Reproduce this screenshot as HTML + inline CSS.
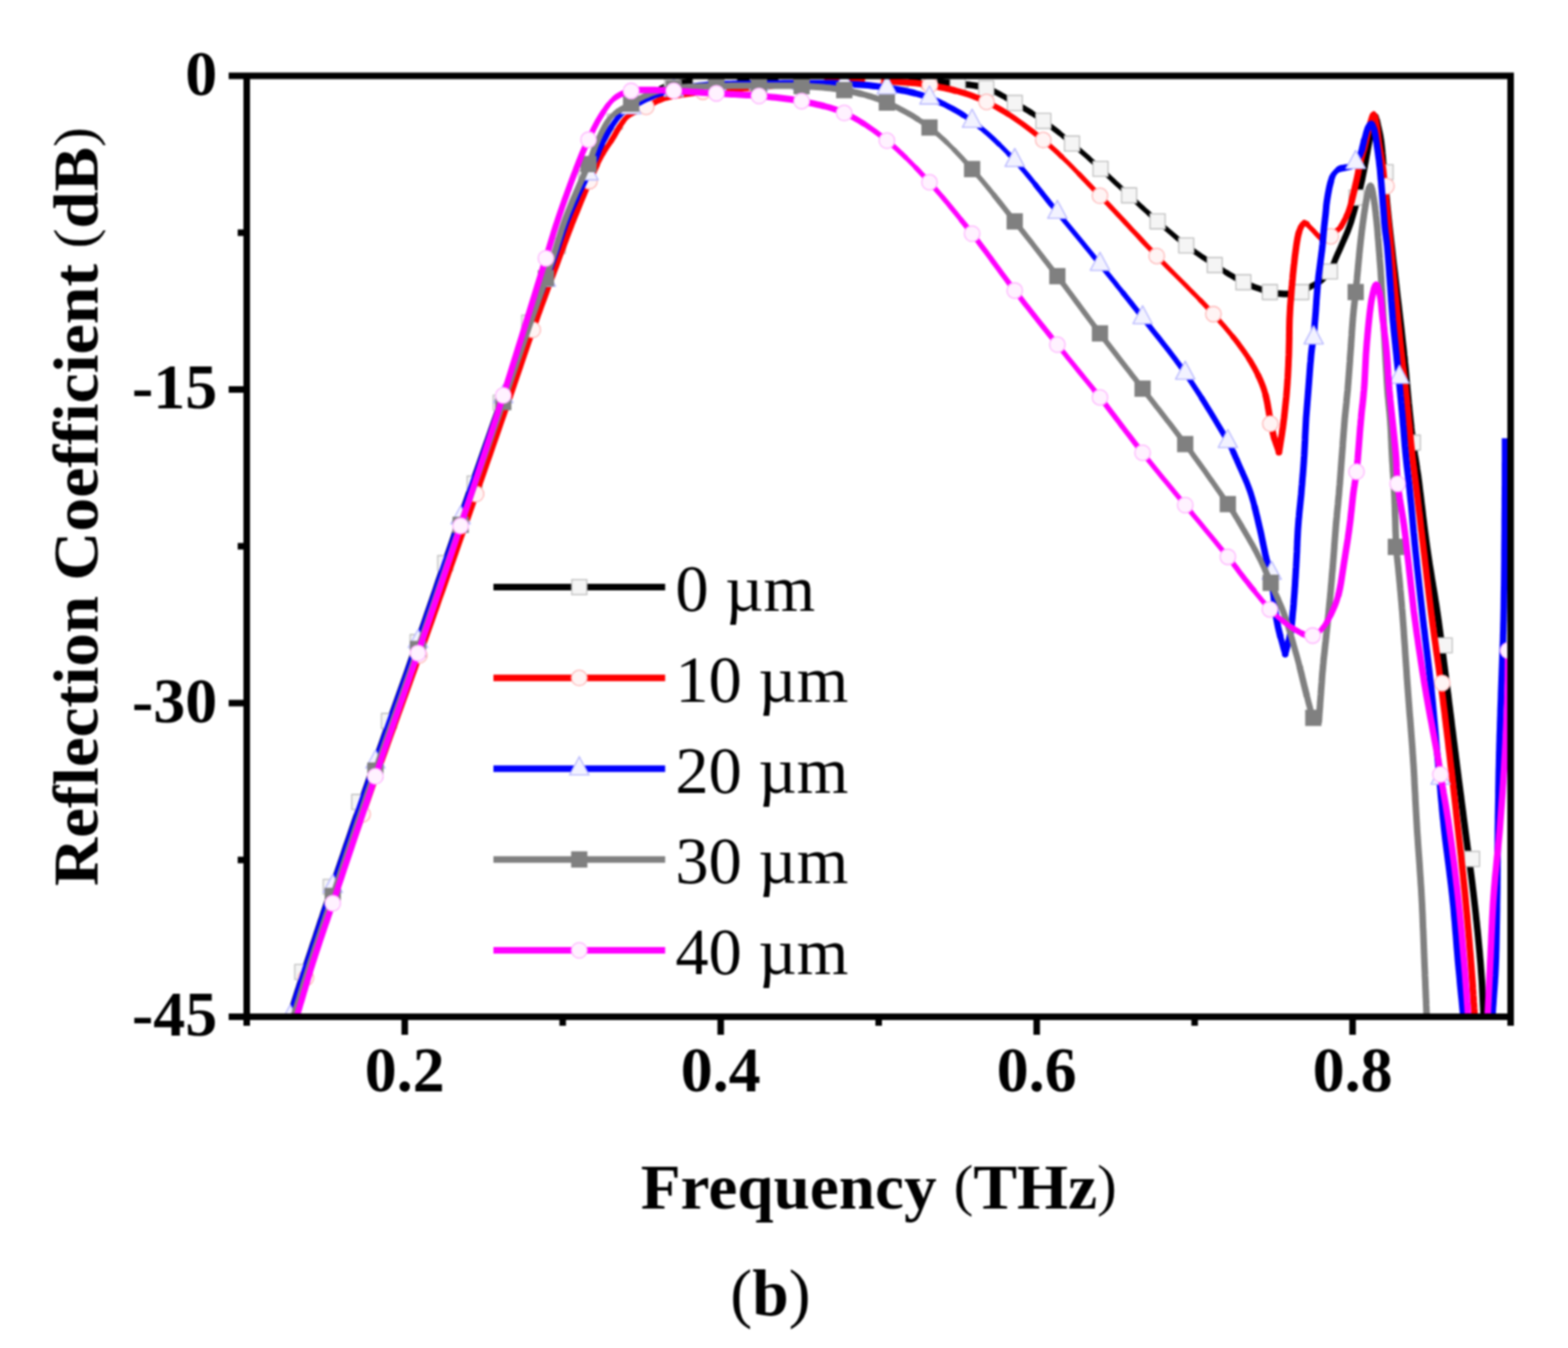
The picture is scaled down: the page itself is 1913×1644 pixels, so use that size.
<!DOCTYPE html>
<html lang="en"><head><meta charset="utf-8"><title>Reflection Coefficient vs Frequency (b)</title>
<style>
html,body{margin:0;padding:0;background:#fff;}
body{width:1913px;height:1644px;overflow:hidden;}
svg{display:block;filter:blur(1.0px);}
text{font-family:"Liberation Serif","DejaVu Serif",serif;fill:#000;}
.b{font-weight:bold;}
.tick{font-weight:bold;font-size:78px;}
.ttl{font-weight:bold;font-size:78px;}
.leg{font-size:81px;}
.p{font-weight:normal;font-size:70px;}
</style></head><body>
<svg width="1913" height="1644" viewBox="0 0 1913 1644">
<rect x="0" y="0" width="1913" height="1644" fill="#ffffff"/>
<defs><clipPath id="plot"><rect x="301.0" y="92.5" width="1542.0" height="1147.5"/></clipPath></defs>
<g clip-path="url(#plot)" fill="none" stroke-linejoin="round" stroke-linecap="round">
<g>
<path d="M348.7,1256.0L349.8,1252.4L350.9,1248.8L351.9,1245.2L353.0,1241.6L354.1,1238.0L355.1,1234.7L356.0,1231.4L357.0,1228.2L358.0,1224.8L359.0,1221.3L360.2,1217.6L361.3,1214.2L362.4,1210.7L363.5,1207.2L364.7,1203.7L365.8,1200.1L367.0,1196.5L368.2,1192.9L369.4,1189.2L370.7,1185.4L371.9,1181.6L373.2,1177.7L374.5,1173.8L376.0,1169.3L377.5,1164.8L379.0,1160.3L380.4,1155.8L381.9,1151.3L383.5,1146.7L385.0,1142.1L386.5,1137.5L388.1,1132.8L389.6,1128.1L391.2,1123.3L392.9,1118.4L394.5,1113.4L396.2,1108.4L398.0,1103.3L399.8,1098.0L402.8,1088.9L406.0,1079.7L409.1,1070.3L412.3,1060.9L415.6,1051.3L418.9,1041.7L422.1,1032.0L425.5,1022.3L428.8,1012.5L432.1,1002.7L435.5,993.0L438.8,983.2L442.2,973.4L445.5,963.7L448.9,954.1L452.2,944.5L455.4,935.2L458.7,925.9L462.0,916.6L465.3,907.3L468.5,898.0L471.8,888.7L475.1,879.5L478.4,870.2L481.7,861.0L485.0,851.7L488.3,842.4L491.6,833.2L494.9,823.9L498.2,814.6L501.4,805.3L504.7,796.0L508.0,786.5L511.3,777.0L514.6,767.5L517.9,758.0L521.1,748.5L524.4,738.9L527.7,729.4L531.0,719.9L534.2,710.3L537.5,700.8L540.8,691.3L544.1,681.7L547.4,672.2L550.7,662.6L554.0,653.1L557.3,643.5L560.7,633.7L564.2,623.9L567.6,614.0L571.1,604.0L574.6,594.1L578.1,584.1L581.6,574.2L585.1,564.2L588.6,554.3L592.0,544.5L595.5,534.7L598.9,525.0L602.3,515.3L605.7,505.8L609.0,496.3L612.3,487.0L614.4,481.1L616.4,475.3L618.5,469.6L620.4,464.0L622.4,458.5L624.3,453.1L626.2,447.7L628.1,442.3L630.0,437.0L631.8,431.7L633.7,426.5L635.6,421.2L637.5,416.0L639.4,410.7L641.4,405.4L643.3,400.0L645.2,394.9L647.1,389.7L649.1,384.6L651.0,379.5L652.9,374.3L654.9,369.2L656.9,364.1L658.8,359.0L660.8,353.9L662.7,348.9L664.7,343.8L666.6,338.8L668.5,333.8L670.3,328.8L672.2,323.9L674.0,319.0L675.4,315.1L676.7,311.3L678.0,307.6L679.3,303.8L680.5,300.1L681.7,296.5L682.9,292.8L684.1,289.2L685.3,285.5L686.6,281.9L687.8,278.3L689.2,274.6L690.5,271.0L692.0,267.3L693.5,263.6L695.3,259.4L697.1,255.3L699.0,251.1L701.0,246.8" stroke="#000000" stroke-width="7.5"/>
<path d="M701.0,246.8L703.0,242.6L705.0,238.3L707.0,234.1L709.1,229.8L711.2,225.6L713.2,221.4L715.3,217.2L717.3,213.1L719.3,209.0L721.3,205.0L723.2,201.0L725.0,197.1" stroke="#000000" stroke-width="7.0"/>
<path d="M725.0,197.1L726.8,193.0L728.4,189.3L729.8,185.7L731.2,182.2L732.7,178.9L734.2,175.5" stroke="#000000" stroke-width="7.5"/>
<path d="M734.2,175.5L736.0,172.0L737.8,168.7L739.7,165.3L741.6,161.9L743.6,158.5L745.7,155.2" stroke="#000000" stroke-width="7.0"/>
<path d="M745.7,155.2L747.8,151.9L750.0,148.7L752.2,145.6L754.5,142.7" stroke="#000000" stroke-width="6.5"/>
<path d="M754.5,142.7L757.1,139.8L759.9,137.1L762.8,134.7" stroke="#000000" stroke-width="6.0"/>
<path d="M762.8,134.7L765.8,132.4L768.9,130.2L772.0,128.0L775.1,125.8L778.3,123.7L781.5,121.6" stroke="#000000" stroke-width="6.5"/>
<path d="M781.5,121.6L784.8,119.6L788.2,117.7L791.6,115.8L795.0,114.0L798.1,112.4L801.2,110.8L804.2,109.2L807.4,107.7" stroke="#000000" stroke-width="7.0"/>
<path d="M807.4,107.7L810.6,106.3L813.9,105.0L817.3,103.9" stroke="#000000" stroke-width="7.5"/>
<path d="M817.3,103.9L821.0,103.0L824.5,102.3L828.0,101.6L831.6,101.0L835.2,100.5L838.9,100.0L842.7,99.6L846.5,99.2L850.2,98.8L854.1,98.4L857.9,98.1L861.7,97.8L865.5,97.5L869.3,97.3L873.0,97.0L876.8,96.7L880.5,96.5L884.3,96.3L888.0,96.2L891.7,96.1L895.5,96.0L899.2,95.9L903.0,95.8L906.8,95.7L910.6,95.7L914.4,95.6L918.2,95.6L922.1,95.5L926.0,95.5L930.2,95.5L934.4,95.4L938.7,95.4L943.0,95.4L947.3,95.4L951.6,95.4L955.9,95.4L960.3,95.4L964.6,95.4L968.9,95.4L973.3,95.4L977.7,95.4L982.0,95.4L986.3,95.5L990.7,95.5L995.0,95.5L999.3,95.5L1003.6,95.5L1007.9,95.5L1012.2,95.5L1016.6,95.5L1020.9,95.5L1025.2,95.6L1029.5,95.6L1033.8,95.6L1038.1,95.6L1042.4,95.6L1046.7,95.7L1051.0,95.7L1055.4,95.8L1059.7,95.9L1064.0,96.0L1068.4,96.1L1072.8,96.2L1077.2,96.4L1081.7,96.5L1086.1,96.7L1090.6,96.9L1095.1,97.1L1099.5,97.2L1104.0,97.4L1108.4,97.7L1112.8,97.9L1117.1,98.1L1121.4,98.3L1125.7,98.5L1129.9,98.8L1134.0,99.0L1138.2,99.3L1142.1,99.5L1146.0,99.8L1149.7,100.1L1153.4,100.4L1157.0,100.8L1160.6,101.1L1164.3,101.6L1168.0,102.0L1171.9,102.4L1175.8,102.8L1179.8,103.2L1183.7,103.6L1187.6,104.1L1191.5,104.7L1195.4,105.4L1199.2,106.4" stroke="#000000" stroke-width="8.0"/>
<path d="M1199.2,106.4L1203.0,107.5L1206.4,108.7L1209.7,110.1L1213.1,111.6" stroke="#000000" stroke-width="7.5"/>
<path d="M1213.1,111.6L1216.4,113.2L1219.6,114.9L1222.9,116.7L1226.2,118.5L1229.4,120.4L1232.6,122.3L1235.8,124.2L1239.0,126.0L1242.2,127.8L1245.3,129.7L1248.5,131.5L1251.6,133.4L1254.7,135.3L1257.8,137.3" stroke="#000000" stroke-width="7.0"/>
<path d="M1257.8,137.3L1260.8,139.3L1263.9,141.3L1267.0,143.3L1270.0,145.4L1273.0,147.5L1276.2,149.8L1279.4,152.1L1282.5,154.5L1285.6,156.9L1288.8,159.4L1291.9,161.8" stroke="#000000" stroke-width="6.5"/>
<path d="M1291.9,161.8L1295.0,164.3L1298.0,166.9L1301.1,169.4L1304.2,171.9L1307.2,174.5L1310.2,177.0L1313.1,179.4L1316.0,181.9L1318.8,184.4L1321.7,187.0L1324.6,189.5L1327.5,192.1L1330.3,194.7L1333.2,197.2L1336.0,199.8L1338.9,202.4L1341.8,205.0L1344.5,207.5L1347.2,210.0L1350.0,212.5L1352.7,215.1L1355.4,217.6L1358.2,220.2L1360.9,222.8L1363.6,225.3L1366.4,227.9L1369.1,230.4L1371.8,233.0L1374.5,235.5L1377.2,238.0L1380.1,240.6L1382.9,243.2L1385.7,245.8L1388.5,248.4L1391.3,250.9L1394.1,253.5L1396.9,256.1L1399.7,258.6L1402.5,261.2L1405.3,263.7L1408.1,266.2L1411.0,268.8L1413.9,271.3L1416.8,273.9L1419.7,276.4L1422.7,279.0L1425.6,281.5L1428.6,284.1L1431.5,286.6L1434.5,289.1L1437.5,291.6L1440.5,294.0" stroke="#000000" stroke-width="6.0"/>
<path d="M1440.5,294.0L1443.5,296.4L1446.5,298.8L1449.6,301.1L1452.7,303.3L1455.8,305.6L1458.9,307.8L1462.0,309.9L1465.1,312.1L1468.3,314.2L1471.5,316.3L1474.6,318.4L1477.8,320.4L1481.0,322.5L1484.1,324.5L1487.3,326.6L1490.4,328.6L1493.6,330.7L1496.7,332.7" stroke="#000000" stroke-width="6.5"/>
<path d="M1496.7,332.7L1499.9,334.7L1503.1,336.6L1506.3,338.5L1509.5,340.3L1512.7,342.1L1516.0,343.8L1519.6,345.5" stroke="#000000" stroke-width="7.0"/>
<path d="M1519.6,345.5L1523.3,347.1L1527.1,348.7L1530.8,350.2L1534.6,351.5L1538.3,352.8L1542.1,354.1L1545.8,355.2L1549.4,356.2" stroke="#000000" stroke-width="7.5"/>
<path d="M1549.4,356.2L1553.0,357.1L1556.4,357.7L1559.9,358.1L1563.3,358.3L1566.6,358.5L1570.0,358.5L1573.6,358.4L1577.2,358.2L1580.8,357.7L1584.3,357.1" stroke="#000000" stroke-width="8.0"/>
<path d="M1584.3,357.1L1587.6,356.2L1590.5,355.0" stroke="#000000" stroke-width="7.5"/>
<path d="M1590.5,355.0L1593.2,353.4" stroke="#000000" stroke-width="7.0"/>
<path d="M1593.2,353.4L1595.8,351.6" stroke="#000000" stroke-width="6.5"/>
<path d="M1595.8,351.6L1598.5,349.9L1601.4,348.3L1604.5,346.7L1607.5,345.1L1610.5,343.4" stroke="#000000" stroke-width="7.0"/>
<path d="M1610.5,343.4L1613.2,341.5" stroke="#000000" stroke-width="6.5"/>
<path d="M1613.2,341.5L1615.9,339.2" stroke="#000000" stroke-width="6.0"/>
<path d="M1615.9,339.2L1618.4,336.8" stroke="#000000" stroke-width="5.5"/>
<path d="M1618.4,336.8L1620.6,334.1" stroke="#000000" stroke-width="6.0"/>
<path d="M1620.6,334.1L1622.6,331.1" stroke="#000000" stroke-width="6.5"/>
<path d="M1622.6,331.1L1624.2,328.2L1625.7,325.1" stroke="#000000" stroke-width="7.0"/>
<path d="M1625.7,325.1L1627.0,321.8L1628.3,318.5L1629.6,315.2L1631.0,312.0L1632.4,308.8L1633.9,305.6L1635.3,302.5L1636.7,299.3L1638.1,296.1L1639.5,293.0L1641.0,289.6L1642.4,286.2L1643.9,282.9L1645.2,279.5L1646.5,276.0L1647.8,272.3L1649.0,268.5L1650.1,264.7L1651.2,260.9L1652.3,257.0L1653.3,253.5L1654.2,250.1L1655.1,246.6L1656.0,243.0" stroke="#000000" stroke-width="7.5"/>
<path d="M1656.0,243.0L1656.9,239.5L1657.8,236.0L1658.6,232.5L1659.4,229.0L1660.2,225.5L1661.0,222.0L1661.8,218.5L1662.5,215.0L1663.2,211.5L1663.9,208.0L1664.6,204.5L1665.2,201.0L1665.9,197.5L1666.5,194.0L1667.1,190.5L1667.8,187.0L1668.4,183.4L1669.0,179.9L1669.7,176.4L1670.3,173.0L1670.9,169.7L1671.5,166.5L1672.2,163.3L1672.8,160.2L1673.5,157.0L1674.2,153.3L1675.0,149.2L1675.8,145.2" stroke="#000000" stroke-width="8.0"/>
<path d="M1675.8,145.2L1676.7,142.3" stroke="#000000" stroke-width="7.5"/>
<path d="M1676.7,142.3L1677.5,141.0L1678.5,142.4" stroke="#000000" stroke-width="6.5"/>
<path d="M1678.5,142.4L1679.5,146.1" stroke="#000000" stroke-width="7.5"/>
<path stroke-linecap="butt" d="M1679.5,146.1L1680.6,150.7L1681.5,155.0L1682.3,158.4L1683.1,161.8L1683.8,165.2L1684.4,168.8L1685.0,172.7L1685.4,176.2L1685.8,179.7L1686.2,183.3L1686.5,186.9L1686.9,190.6L1687.2,194.3L1687.5,198.1L1687.9,202.0L1688.2,206.0L1688.6,210.0L1689.0,214.0L1689.4,217.9L1689.8,221.9L1690.1,225.9L1690.5,229.9L1690.9,233.9L1691.3,237.9L1691.7,242.0L1692.1,246.1L1692.5,250.3L1692.9,254.6L1693.4,259.0L1693.8,263.4L1694.3,267.9L1694.8,272.6L1695.3,277.3L1696.3,286.2L1697.3,295.3L1698.4,304.5L1699.4,313.9L1700.5,323.4L1701.7,332.9L1702.8,342.6L1703.9,352.2L1705.0,361.9L1706.2,371.5L1707.3,381.1L1708.4,390.6L1709.5,400.0L1710.5,409.3L1711.5,418.4L1712.5,427.3L1713.0,432.4L1713.6,437.3L1714.0,442.2L1714.5,446.9L1715.0,451.6L1715.4,456.2L1715.8,460.8L1716.2,465.3L1716.6,469.7L1717.0,474.1L1717.4,478.5L1717.8,482.8L1718.2,487.1L1718.6,491.4L1719.1,495.7L1719.5,500.0L1719.9,503.9L1720.3,507.7L1720.7,511.5L1721.1,515.1L1721.5,518.7L1721.8,522.2L1722.2,525.7L1722.7,529.3L1723.1,532.8L1723.5,536.4L1724.0,540.0L1724.5,543.6L1725.0,547.1L1725.5,550.6L1726.0,554.1L1726.6,557.6L1727.2,561.1L1727.7,564.7L1728.3,568.3L1728.8,572.0L1729.4,575.8L1730.0,579.6L1730.5,583.6L1731.2,588.6L1731.8,593.6L1732.4,598.7L1733.1,603.8L1733.7,609.0L1734.3,614.3L1735.0,619.5L1735.6,624.8L1736.2,630.1L1736.9,635.5L1737.5,640.8L1738.2,646.1L1738.9,651.4L1739.6,656.8L1740.3,662.0L1741.0,667.3L1741.8,672.7L1742.6,678.1L1743.4,683.4L1744.2,688.8L1745.1,694.2L1746.0,699.6L1746.8,705.0L1747.7,710.4L1748.6,715.8L1749.5,721.2L1750.4,726.6L1751.2,732.0L1752.1,737.4L1752.9,742.8L1753.7,748.2L1754.5,753.6L1755.3,759.1L1756.0,764.6L1756.8,770.2L1757.5,775.7L1758.3,781.2L1759.0,786.8L1759.7,792.3L1760.4,797.9L1761.1,803.4L1761.8,808.9L1762.5,814.5L1763.2,820.0L1763.9,825.5L1764.6,831.0L1765.3,836.5L1766.0,842.0L1766.7,847.1L1767.3,852.3L1767.9,857.4L1768.6,862.5L1769.2,867.6L1769.9,872.7L1770.5,877.8L1771.1,882.9L1771.7,888.0L1772.4,893.0L1773.0,898.1L1773.6,903.2L1774.3,908.3L1774.9,913.4L1775.6,918.5L1776.2,923.6L1776.9,928.8L1777.5,934.0L1778.2,939.3L1778.9,944.5L1779.5,949.7L1780.2,954.9L1780.9,960.1L1781.6,965.4L1782.3,970.6L1782.9,975.8L1783.6,981.1L1784.3,986.3L1785.0,991.6L1785.6,996.8L1786.3,1002.0L1787.0,1007.3L1787.7,1012.7L1788.4,1018.1L1789.1,1023.4L1789.8,1028.8L1790.5,1034.2L1791.3,1039.6L1792.0,1045.0L1792.7,1050.4L1793.4,1055.8L1794.1,1061.2L1794.8,1066.6L1795.5,1072.0L1796.2,1077.4L1796.8,1082.8L1797.5,1088.2L1798.1,1093.6L1798.7,1098.9L1799.3,1104.1L1799.9,1109.4L1800.5,1114.7L1801.0,1120.0L1801.6,1125.3L1802.1,1130.6L1802.7,1135.8L1803.2,1141.1L1803.7,1146.4L1804.2,1151.6L1804.7,1156.8L1805.2,1162.0L1805.6,1167.1L1806.1,1172.2L1806.5,1177.3L1806.8,1181.5L1807.1,1185.6L1807.4,1189.7L1807.7,1193.8L1808.0,1197.9L1808.2,1202.0L1808.4,1206.0L1808.6,1210.0L1808.8,1214.0L1809.0,1217.9L1809.2,1221.8L1809.4,1225.7L1809.6,1229.5L1809.8,1233.3L1810.0,1237.0L1810.2,1241.0L1810.4,1244.7L1810.5,1248.3L1810.6,1251.7L1810.7,1255.1L1810.9,1258.5L1811.0,1262.0" stroke="#000000" stroke-width="8.0"/>
</g>
<g>
<rect x="601.7" y="482.0" width="18.3" height="18.3" fill="#f5f5f5" stroke="#c4c4c4" stroke-width="1.6"/>
<rect x="636.5" y="384.4" width="18.3" height="18.3" fill="#f5f5f5" stroke="#c4c4c4" stroke-width="1.6"/>
<rect x="671.4" y="290.8" width="18.3" height="18.3" fill="#f5f5f5" stroke="#c4c4c4" stroke-width="1.6"/>
<rect x="706.2" y="207.9" width="18.3" height="18.3" fill="#f5f5f5" stroke="#c4c4c4" stroke-width="1.6"/>
<rect x="741.1" y="139.2" width="18.3" height="18.3" fill="#f5f5f5" stroke="#c4c4c4" stroke-width="1.6"/>
<rect x="775.9" y="110.3" width="18.3" height="18.3" fill="#f5f5f5" stroke="#c4c4c4" stroke-width="1.6"/>
<rect x="810.8" y="94.1" width="18.3" height="18.3" fill="#f5f5f5" stroke="#c4c4c4" stroke-width="1.6"/>
<rect x="845.6" y="89.2" width="18.3" height="18.3" fill="#f5f5f5" stroke="#c4c4c4" stroke-width="1.6"/>
<rect x="880.5" y="87.0" width="18.3" height="18.3" fill="#f5f5f5" stroke="#c4c4c4" stroke-width="1.6"/>
<rect x="915.4" y="86.4" width="18.3" height="18.3" fill="#f5f5f5" stroke="#c4c4c4" stroke-width="1.6"/>
<rect x="950.2" y="86.2" width="18.3" height="18.3" fill="#f5f5f5" stroke="#c4c4c4" stroke-width="1.6"/>
<rect x="985.1" y="86.3" width="18.3" height="18.3" fill="#f5f5f5" stroke="#c4c4c4" stroke-width="1.6"/>
<rect x="1019.9" y="86.4" width="18.3" height="18.3" fill="#f5f5f5" stroke="#c4c4c4" stroke-width="1.6"/>
<rect x="1054.8" y="86.8" width="18.3" height="18.3" fill="#f5f5f5" stroke="#c4c4c4" stroke-width="1.6"/>
<rect x="1089.6" y="88.1" width="18.3" height="18.3" fill="#f5f5f5" stroke="#c4c4c4" stroke-width="1.6"/>
<rect x="1124.4" y="89.8" width="18.3" height="18.3" fill="#f5f5f5" stroke="#c4c4c4" stroke-width="1.6"/>
<rect x="1159.3" y="92.9" width="18.3" height="18.3" fill="#f5f5f5" stroke="#c4c4c4" stroke-width="1.6"/>
<rect x="1194.1" y="98.5" width="18.3" height="18.3" fill="#f5f5f5" stroke="#c4c4c4" stroke-width="1.6"/>
<rect x="1229.0" y="116.4" width="18.3" height="18.3" fill="#f5f5f5" stroke="#c4c4c4" stroke-width="1.6"/>
<rect x="1263.8" y="138.3" width="18.3" height="18.3" fill="#f5f5f5" stroke="#c4c4c4" stroke-width="1.6"/>
<rect x="1298.7" y="165.9" width="18.3" height="18.3" fill="#f5f5f5" stroke="#c4c4c4" stroke-width="1.6"/>
<rect x="1333.5" y="196.7" width="18.3" height="18.3" fill="#f5f5f5" stroke="#c4c4c4" stroke-width="1.6"/>
<rect x="1368.4" y="229.1" width="18.3" height="18.3" fill="#f5f5f5" stroke="#c4c4c4" stroke-width="1.6"/>
<rect x="1403.2" y="260.8" width="18.3" height="18.3" fill="#f5f5f5" stroke="#c4c4c4" stroke-width="1.6"/>
<rect x="1438.1" y="290.2" width="18.3" height="18.3" fill="#f5f5f5" stroke="#c4c4c4" stroke-width="1.6"/>
<rect x="1472.9" y="314.1" width="18.3" height="18.3" fill="#f5f5f5" stroke="#c4c4c4" stroke-width="1.6"/>
<rect x="1507.8" y="335.1" width="18.3" height="18.3" fill="#f5f5f5" stroke="#c4c4c4" stroke-width="1.6"/>
<rect x="359.6" y="1176.3" width="18.3" height="18.3" fill="#f5f5f5" stroke="#c4c4c4" stroke-width="1.6"/>
<rect x="394.4" y="1072.5" width="18.3" height="18.3" fill="#f5f5f5" stroke="#c4c4c4" stroke-width="1.6"/>
<rect x="429.2" y="968.9" width="18.3" height="18.3" fill="#f5f5f5" stroke="#c4c4c4" stroke-width="1.6"/>
<rect x="465.4" y="870.1" width="18.3" height="18.3" fill="#f5f5f5" stroke="#c4c4c4" stroke-width="1.6"/>
<rect x="500.4" y="773.9" width="18.3" height="18.3" fill="#f5f5f5" stroke="#c4c4c4" stroke-width="1.6"/>
<rect x="534.1" y="677.6" width="18.3" height="18.3" fill="#f5f5f5" stroke="#c4c4c4" stroke-width="1.6"/>
<rect x="569.9" y="580.6" width="18.3" height="18.3" fill="#f5f5f5" stroke="#c4c4c4" stroke-width="1.6"/>
<rect x="1540.2" y="347.1" width="18.3" height="18.3" fill="#f5f5f5" stroke="#c4c4c4" stroke-width="1.6"/>
<rect x="1578.4" y="347.1" width="18.3" height="18.3" fill="#f5f5f5" stroke="#c4c4c4" stroke-width="1.6"/>
<rect x="1613.4" y="322.0" width="18.3" height="18.3" fill="#f5f5f5" stroke="#c4c4c4" stroke-width="1.6"/>
<rect x="1645.8" y="231.8" width="18.3" height="18.3" fill="#f5f5f5" stroke="#c4c4c4" stroke-width="1.6"/>
<rect x="1681.3" y="200.8" width="18.3" height="18.3" fill="#f5f5f5" stroke="#c4c4c4" stroke-width="1.6"/>
<rect x="1714.6" y="530.6" width="18.3" height="18.3" fill="#f5f5f5" stroke="#c4c4c4" stroke-width="1.6"/>
<rect x="1753.4" y="778.0" width="18.3" height="18.3" fill="#f5f5f5" stroke="#c4c4c4" stroke-width="1.6"/>
<rect x="1786.8" y="1038.4" width="18.3" height="18.3" fill="#f5f5f5" stroke="#c4c4c4" stroke-width="1.6"/>
</g>
<g>
<path d="M354.2,1256.0L355.3,1252.4L356.4,1248.8L357.4,1245.2L358.5,1241.6L359.6,1238.0L360.6,1234.7L361.6,1231.4L362.5,1228.2L363.5,1224.8L364.6,1221.3L365.7,1217.6L366.7,1214.2L367.8,1210.7L368.8,1207.2L369.9,1203.7L370.9,1200.1L372.0,1196.5L373.1,1192.8L374.3,1189.1L375.4,1185.4L376.6,1181.6L377.9,1177.7L379.2,1173.8L380.7,1169.3L382.2,1164.8L383.8,1160.3L385.3,1155.8L386.9,1151.3L388.5,1146.7L390.1,1142.1L391.8,1137.5L393.4,1132.8L395.1,1128.1L396.8,1123.3L398.5,1118.4L400.3,1113.5L402.1,1108.4L403.9,1103.3L405.7,1098.0L408.9,1088.9L412.1,1079.7L415.4,1070.3L418.7,1060.9L422.0,1051.3L425.4,1041.7L428.8,1032.0L432.2,1022.3L435.6,1012.5L439.0,1002.8L442.4,993.0L445.9,983.2L449.3,973.4L452.7,963.7L456.1,954.1L459.5,944.5L462.8,935.2L466.1,925.9L469.5,916.6L472.8,907.3L476.1,898.0L479.5,888.8L482.8,879.5L486.1,870.2L489.5,861.0L492.8,851.7L496.2,842.4L499.5,833.2L502.8,823.9L506.2,814.6L509.5,805.3L512.8,796.0L516.2,786.5L519.5,777.0L522.9,767.5L526.3,758.0L529.6,748.5L533.0,739.0L536.3,729.4L539.7,719.9L543.0,710.4L546.4,700.8L549.7,691.3L553.1,681.7L556.4,672.2L559.8,662.6L563.1,653.1L566.5,643.5L569.9,633.7L573.3,623.9L576.8,614.0L580.2,604.1L583.7,594.1L587.2,584.2L590.7,574.2L594.1,564.3L597.6,554.4L601.0,544.5L604.4,534.7L607.8,525.0L611.1,515.3L614.5,505.8L617.7,496.3L621.0,487.0L623.0,481.1L625.0,475.3L626.9,469.6L628.8,464.0L630.7,458.5L632.6,453.1L634.4,447.7L636.2,442.3L638.0,437.0L639.8,431.8L641.6,426.5L643.4,421.2L645.2,416.0L647.1,410.7L648.9,405.4L650.8,400.0L652.6,394.9L654.5,389.7L656.3,384.6L658.2,379.5L660.0,374.3L661.9,369.2L663.8,364.1L665.7,359.0L667.5,353.9L669.4,348.8L671.3,343.8L673.1,338.7L675.0,333.8L676.8,328.8L678.7,323.9L680.5,319.0L681.9,315.1L683.3,311.3L684.7,307.5L686.1,303.8L687.5,300.1L688.8,296.5L690.2,292.8L691.5,289.2L692.9,285.6L694.3,282.0L695.7,278.3L697.1,274.7L698.5,271.0L700.0,267.3L701.5,263.6L703.2,259.5L704.9,255.3L706.6,251.1L708.3,246.8L710.1,242.6L711.9,238.3L713.6,234.0L715.4,229.7L717.2,225.5L719.1,221.3L720.9,217.1L722.7,212.9L724.5,208.9L726.4,204.9L728.2,200.9" stroke="#ff0000" stroke-width="7.5"/>
<path d="M728.2,200.9L730.0,197.1L731.9,193.4L733.7,190.0L735.6,186.9" stroke="#ff0000" stroke-width="7.0"/>
<path d="M735.6,186.9L737.6,183.9L739.5,180.9L741.5,178.0L743.5,175.1L745.5,172.0" stroke="#ff0000" stroke-width="6.5"/>
<path d="M745.5,172.0L747.5,168.7L749.6,165.3L751.6,161.8L753.6,158.3L755.7,154.9" stroke="#ff0000" stroke-width="7.0"/>
<path d="M755.7,154.9L757.8,151.6L760.1,148.4" stroke="#ff0000" stroke-width="6.5"/>
<path d="M760.1,148.4L762.4,145.4L765.0,142.7L767.9,140.2" stroke="#ff0000" stroke-width="6.0"/>
<path d="M767.9,140.2L771.1,138.2" stroke="#ff0000" stroke-width="6.5"/>
<path d="M771.1,138.2L774.6,136.4" stroke="#ff0000" stroke-width="7.0"/>
<path d="M774.6,136.4L778.1,134.8L781.7,133.3L785.2,131.8" stroke="#ff0000" stroke-width="7.5"/>
<path d="M785.2,131.8L788.7,130.2L791.9,128.6L795.0,126.9L798.1,125.2L801.2,123.6L804.4,122.1" stroke="#ff0000" stroke-width="7.0"/>
<path d="M804.4,122.1L807.6,120.7L811.0,119.5L814.5,118.5" stroke="#ff0000" stroke-width="7.5"/>
<path d="M814.5,118.5L818.0,117.6L821.6,116.9L825.2,116.2L828.9,115.6L832.6,115.1L836.3,114.5L840.0,114.0L843.6,113.5L847.3,113.0L851.0,112.6L854.7,112.2L858.4,111.9L862.1,111.5L865.7,111.2L869.4,110.8L873.0,110.5L876.9,110.1L880.8,109.8L884.6,109.5L888.5,109.2L892.3,108.9L896.1,108.6L900.0,108.3L903.7,108.0L907.4,107.6L911.2,107.3L915.0,106.9L918.7,106.6L922.5,106.2L926.2,105.9L930.0,105.5L933.7,105.1L937.5,104.8L941.2,104.4L944.9,104.0L948.6,103.6L952.4,103.2L956.2,102.9L960.0,102.5L963.9,102.1L967.8,101.8L971.7,101.4L975.7,101.0L979.7,100.7L983.6,100.4L987.6,100.0L991.6,99.8L995.5,99.5L999.3,99.3L1003.2,99.1L1007.0,98.9L1010.9,98.8L1014.7,98.6L1018.5,98.5L1022.3,98.4L1026.2,98.4L1030.0,98.3L1033.7,98.2L1037.4,98.2L1041.0,98.1L1044.7,98.1L1048.3,98.1L1052.0,98.1L1055.9,98.2L1059.9,98.3L1064.0,98.5L1068.1,98.7L1072.4,98.9L1076.6,99.1L1081.0,99.2L1085.3,99.4L1089.7,99.6L1094.2,99.8L1098.6,100.0L1103.1,100.2L1107.6,100.6L1112.0,100.9L1116.5,101.3L1120.9,101.8L1125.3,102.4L1129.7,103.0L1134.0,103.8L1138.4,104.6L1142.7,105.4L1147.1,106.3L1151.5,107.2L1155.8,108.2L1160.2,109.2L1164.5,110.3" stroke="#ff0000" stroke-width="8.0"/>
<path d="M1164.5,110.3L1168.8,111.4L1173.1,112.6L1177.4,113.9L1181.7,115.3L1185.9,116.8L1190.1,118.4L1194.3,120.1L1198.4,121.8" stroke="#ff0000" stroke-width="7.5"/>
<path d="M1198.4,121.8L1202.5,123.8L1207.1,126.0L1211.7,128.5L1216.3,131.0L1220.8,133.6L1225.3,136.3L1229.8,139.1" stroke="#ff0000" stroke-width="7.0"/>
<path d="M1229.8,139.1L1234.3,142.0L1238.7,145.0L1243.1,148.1L1247.5,151.2L1251.8,154.4L1256.1,157.6L1260.4,160.9L1264.6,164.2" stroke="#ff0000" stroke-width="6.5"/>
<path d="M1264.6,164.2L1268.8,167.6L1273.0,171.0L1277.5,174.8L1282.0,178.7L1286.5,182.7L1290.9,186.8L1295.2,191.0" stroke="#ff0000" stroke-width="6.0"/>
<path d="M1295.2,191.0L1299.6,195.2L1303.9,199.4L1308.1,203.7L1312.4,208.1L1316.6,212.4" stroke="#ff0000" stroke-width="5.5"/>
<path d="M1316.6,212.4L1320.9,216.8L1325.1,221.2L1329.3,225.6L1333.5,230.0L1337.8,234.4" stroke="#ff0000" stroke-width="6.0"/>
<path d="M1337.8,234.4L1342.0,238.8L1346.4,243.3" stroke="#ff0000" stroke-width="5.5"/>
<path d="M1346.4,243.3L1350.8,247.8L1355.1,252.4L1359.5,257.0L1363.8,261.6L1368.2,266.2L1372.5,270.9L1376.8,275.5L1381.1,280.2L1385.5,284.8L1389.8,289.4L1394.1,294.1L1398.4,298.7L1402.8,303.3L1407.1,307.9L1411.5,312.5L1415.8,317.0" stroke="#ff0000" stroke-width="6.0"/>
<path d="M1415.8,317.0L1420.2,321.5L1424.6,326.0L1429.1,330.5L1433.5,334.9L1438.0,339.4L1442.5,343.9L1446.9,348.3L1451.3,352.8L1455.7,357.2L1460.1,361.7L1464.4,366.1" stroke="#ff0000" stroke-width="5.5"/>
<path d="M1464.4,366.1L1468.7,370.5L1472.9,375.0L1477.0,379.4L1481.0,383.8L1483.8,386.8L1486.5,389.9L1489.2,392.9L1491.8,395.9L1494.4,398.9L1496.9,401.9L1499.4,404.9L1501.9,407.9L1504.3,410.9" stroke="#ff0000" stroke-width="6.0"/>
<path d="M1504.3,410.9L1506.7,413.8L1509.0,416.8L1511.3,419.8L1513.5,422.9L1515.7,425.9L1517.9,428.9L1520.0,432.0L1522.2,435.2L1524.3,438.5" stroke="#ff0000" stroke-width="6.5"/>
<path d="M1524.3,438.5L1526.3,441.7L1528.2,445.0L1530.1,448.3L1531.9,451.6L1533.6,454.9L1535.2,458.2" stroke="#ff0000" stroke-width="7.0"/>
<path d="M1535.2,458.2L1536.8,461.6L1538.3,465.0L1539.7,468.4L1541.0,471.8L1542.2,475.4L1543.3,479.0L1544.3,482.7" stroke="#ff0000" stroke-width="7.5"/>
<path d="M1544.3,482.7L1545.1,486.4L1545.9,490.1L1546.6,493.8L1547.2,497.6L1547.9,501.3L1548.5,504.9L1549.2,508.5L1549.9,512.0L1550.7,516.0L1551.5,519.9L1552.2,523.6L1552.9,527.3L1553.7,530.9L1554.6,534.5" stroke="#ff0000" stroke-width="8.0"/>
<path d="M1554.6,534.5L1555.6,538.0L1556.8,541.4L1558.0,544.8L1559.2,548.1L1560.4,551.5" stroke="#ff0000" stroke-width="7.5"/>
<path d="M1560.4,551.5L1561.0,547.7L1561.6,543.9L1562.2,540.2L1562.8,536.4L1563.4,532.6L1564.0,528.8L1564.5,525.1L1565.1,521.3L1565.6,517.4L1566.1,513.6L1566.6,509.8L1567.0,506.1L1567.4,502.3L1567.8,498.5L1568.2,494.7L1568.6,490.9L1569.0,487.1L1569.4,483.3L1569.7,479.4L1570.0,475.6L1570.3,471.8L1570.6,467.9L1570.8,464.0L1571.1,460.2L1571.3,456.3L1571.5,452.4L1571.7,448.5L1571.9,444.6L1572.0,440.7L1572.2,436.8L1572.4,432.9L1572.5,429.0L1572.6,425.1L1572.7,421.1L1572.8,417.1L1572.9,413.2L1572.9,409.2L1573.0,405.3L1573.0,401.3L1573.1,397.3L1573.2,393.4L1573.3,389.4L1573.5,385.5L1573.7,381.7L1573.9,377.9L1574.1,374.0L1574.4,370.2L1574.7,366.4L1575.0,362.6L1575.3,358.8L1575.6,355.0L1575.9,351.2L1576.3,347.4L1576.6,343.6L1577.0,339.8L1577.3,335.9L1577.7,332.0L1578.1,328.2L1578.5,324.3L1579.0,320.4L1579.4,316.6L1579.8,312.8L1580.3,309.1L1580.8,305.4L1581.3,301.8L1581.8,298.0L1582.4,294.3L1583.0,290.8L1583.7,287.4L1584.5,284.1" stroke="#ff0000" stroke-width="8.0"/>
<path d="M1584.5,284.1L1585.5,281.0L1587.1,277.1" stroke="#ff0000" stroke-width="7.5"/>
<path d="M1587.1,277.1L1589.2,273.6" stroke="#ff0000" stroke-width="7.0"/>
<path d="M1589.2,273.6L1591.5,272.0" stroke="#ff0000" stroke-width="6.5"/>
<path d="M1591.5,272.0L1594.2,273.1" stroke="#ff0000" stroke-width="7.5"/>
<path d="M1594.2,273.1L1597.1,276.0" stroke="#ff0000" stroke-width="5.5"/>
<path d="M1597.1,276.0L1600.0,279.0" stroke="#ff0000" stroke-width="6.0"/>
<path d="M1600.0,279.0L1602.3,281.3" stroke="#ff0000" stroke-width="5.5"/>
<path d="M1602.3,281.3L1604.5,283.7L1606.7,286.1L1609.0,288.2" stroke="#ff0000" stroke-width="6.0"/>
<path d="M1609.0,288.2L1612.4,290.8" stroke="#ff0000" stroke-width="6.5"/>
<path d="M1612.4,290.8L1616.0,292.0" stroke="#ff0000" stroke-width="7.5"/>
<path d="M1616.0,292.0L1618.6,291.4" stroke="#ff0000" stroke-width="8.0"/>
<path d="M1618.6,291.4L1621.2,289.9" stroke="#ff0000" stroke-width="7.0"/>
<path d="M1621.2,289.9L1623.6,288.2" stroke="#ff0000" stroke-width="6.5"/>
<path d="M1623.6,288.2L1625.8,286.3L1627.9,284.1" stroke="#ff0000" stroke-width="6.0"/>
<path d="M1627.9,284.1L1630.0,282.0" stroke="#ff0000" stroke-width="5.5"/>
<path d="M1630.0,282.0L1632.7,279.9" stroke="#ff0000" stroke-width="6.5"/>
<path d="M1632.7,279.9L1635.3,277.3" stroke="#ff0000" stroke-width="5.5"/>
<path d="M1635.3,277.3L1637.3,274.1L1639.2,270.7L1641.1,267.1L1642.9,263.5" stroke="#ff0000" stroke-width="7.0"/>
<path d="M1642.9,263.5L1644.5,260.0L1645.8,256.6L1646.9,253.2L1647.9,249.7L1648.9,245.9" stroke="#ff0000" stroke-width="7.5"/>
<path d="M1648.9,245.9L1649.7,242.6L1650.6,239.1L1651.4,235.6L1652.3,232.0L1653.1,228.4L1653.9,224.8L1654.7,221.3L1655.5,217.8L1656.2,214.5L1657.0,210.8L1657.5,207.6L1658.3,204.0L1659.2,200.5L1660.1,196.8" stroke="#ff0000" stroke-width="8.0"/>
<path d="M1660.1,196.8L1661.1,193.1L1662.1,189.3L1663.1,185.5L1664.1,181.7" stroke="#ff0000" stroke-width="7.5"/>
<path d="M1664.1,181.7L1665.0,178.0L1665.9,174.4L1666.7,170.8L1667.5,167.1L1668.4,163.5L1669.2,159.9L1670.1,156.4" stroke="#ff0000" stroke-width="8.0"/>
<path d="M1670.1,156.4L1671.0,153.0L1672.2,148.6L1673.5,144.1L1674.8,140.5" stroke="#ff0000" stroke-width="7.5"/>
<path d="M1674.8,140.5L1676.0,139.0" stroke="#ff0000" stroke-width="6.0"/>
<path d="M1676.0,139.0L1677.0,140.5" stroke="#ff0000" stroke-width="6.5"/>
<path stroke-linecap="butt" d="M1677.0,140.5L1677.9,144.1L1678.8,148.7L1679.5,153.0L1680.1,156.8L1680.6,160.6L1681.0,164.5L1681.5,168.6L1682.0,172.7L1682.6,176.5L1683.2,180.3L1683.9,184.1L1684.5,188.0L1685.2,191.9L1685.8,195.9L1686.4,199.9L1687.0,204.0L1687.5,207.7L1687.9,211.5L1688.3,215.3L1688.7,219.1L1689.1,223.0L1689.5,226.9L1689.9,230.7L1690.3,234.6L1690.7,238.4L1691.0,242.2L1691.4,245.9L1691.8,249.9L1692.2,253.7L1692.6,257.5L1692.9,261.2L1693.3,265.0L1693.7,268.9L1694.1,273.0L1694.5,277.3L1694.9,281.2L1695.3,285.2L1695.7,289.2L1696.1,293.2L1696.5,297.3L1696.9,301.4L1697.3,305.5L1697.7,309.7L1698.1,313.9L1698.5,318.1L1698.9,322.3L1699.3,326.5L1699.7,330.8L1700.2,335.1L1700.6,339.3L1701.0,343.6L1701.5,348.7L1702.0,353.9L1702.5,359.2L1703.1,364.4L1703.6,369.8L1704.1,375.1L1704.6,380.4L1705.2,385.8L1705.7,391.1L1706.2,396.4L1706.8,401.7L1707.3,406.9L1707.8,412.1L1708.3,417.3L1708.9,422.3L1709.4,427.3L1709.8,431.3L1710.3,435.3L1710.7,439.1L1711.2,442.9L1711.6,446.5L1712.1,450.2L1712.5,453.8L1712.9,457.4L1713.4,460.9L1713.8,464.5L1714.2,468.1L1714.6,471.8L1715.0,475.6L1715.4,479.4L1715.8,483.2L1716.2,487.0L1716.6,490.8L1716.9,494.6L1717.3,498.4L1717.7,502.2L1718.0,506.0L1718.4,509.8L1718.8,513.6L1719.2,517.4L1719.6,521.2L1719.9,525.0L1720.3,528.8L1720.7,532.6L1721.0,536.5L1721.4,540.3L1721.8,544.1L1722.2,547.9L1722.6,551.7L1723.0,555.5L1723.4,559.3L1723.9,563.0L1724.3,566.7L1724.8,570.4L1725.3,574.1L1725.7,577.8L1726.2,581.6L1726.7,585.4L1727.2,589.3L1727.7,593.2L1728.2,597.3L1728.7,601.5L1729.2,605.7L1729.7,609.9L1730.2,614.1L1730.7,618.4L1731.2,622.8L1731.8,627.1L1732.3,631.5L1732.8,635.8L1733.3,640.3L1733.8,644.7L1734.4,649.1L1734.9,653.6L1735.4,658.0L1736.0,662.5L1736.5,667.0L1737.1,672.3L1737.8,677.6L1738.4,683.0L1739.0,688.4L1739.7,693.8L1740.3,699.2L1740.9,704.6L1741.6,710.1L1742.2,715.5L1742.9,721.0L1743.5,726.5L1744.2,731.9L1744.9,737.4L1745.5,742.8L1746.2,748.2L1746.9,753.6L1747.6,758.9L1748.3,764.1L1749.0,769.3L1749.7,774.6L1750.4,779.8L1751.2,785.0L1751.9,790.2L1752.6,795.5L1753.4,800.7L1754.1,805.9L1754.9,811.1L1755.6,816.3L1756.3,821.6L1757.0,826.8L1757.7,832.0L1758.4,837.3L1759.1,842.7L1759.8,848.1L1760.5,853.4L1761.1,858.8L1761.8,864.2L1762.5,869.6L1763.1,875.0L1763.8,880.4L1764.4,885.8L1765.1,891.2L1765.7,896.6L1766.4,902.0L1767.0,907.4L1767.6,912.8L1768.3,918.2L1768.9,923.6L1769.5,928.9L1770.1,934.2L1770.8,939.4L1771.4,944.7L1772.0,950.0L1772.6,955.3L1773.2,960.5L1773.8,965.8L1774.4,971.1L1775.0,976.3L1775.6,981.6L1776.2,986.9L1776.7,992.2L1777.3,997.4L1777.9,1002.7L1778.5,1008.0L1779.1,1013.3L1779.7,1018.7L1780.3,1024.0L1780.9,1029.4L1781.5,1034.7L1782.1,1040.1L1782.7,1045.4L1783.2,1050.8L1783.8,1056.2L1784.4,1061.5L1785.0,1066.9L1785.5,1072.2L1786.1,1077.6L1786.6,1082.9L1787.2,1088.3L1787.7,1093.6L1788.2,1098.9L1788.7,1104.1L1789.2,1109.4L1789.7,1114.7L1790.2,1120.0L1790.6,1125.3L1791.1,1130.6L1791.6,1135.8L1792.0,1141.1L1792.5,1146.4L1792.9,1151.6L1793.3,1156.8L1793.8,1162.0L1794.2,1167.1L1794.6,1172.2L1795.0,1177.3L1795.3,1181.5L1795.6,1185.6L1795.9,1189.7L1796.2,1193.8L1796.5,1197.9L1796.8,1202.0L1797.0,1206.0L1797.3,1210.0L1797.5,1214.0L1797.8,1217.9L1798.0,1221.8L1798.3,1225.7L1798.5,1229.5L1798.8,1233.3L1799.0,1237.0L1799.3,1241.0L1799.5,1244.7L1799.7,1248.3L1799.9,1251.7L1800.1,1255.1L1800.3,1258.5L1800.5,1262.0" stroke="#ff0000" stroke-width="8.0"/>
</g>
<g>
<circle cx="373.2" cy="1192.6" r="9.5" fill="#fff4f4" stroke="#ffbcbc" stroke-width="1.6"/>
<circle cx="442.4" cy="993.1" r="9.5" fill="#fff4f4" stroke="#ffbcbc" stroke-width="1.6"/>
<circle cx="511.6" cy="799.3" r="9.5" fill="#fff4f4" stroke="#ffbcbc" stroke-width="1.6"/>
<circle cx="580.8" cy="602.5" r="9.5" fill="#fff4f4" stroke="#ffbcbc" stroke-width="1.6"/>
<circle cx="650.0" cy="402.3" r="9.5" fill="#fff4f4" stroke="#ffbcbc" stroke-width="1.6"/>
<circle cx="719.2" cy="220.9" r="9.5" fill="#fff4f4" stroke="#ffbcbc" stroke-width="1.6"/>
<circle cx="788.4" cy="130.3" r="9.5" fill="#fff4f4" stroke="#ffbcbc" stroke-width="1.6"/>
<circle cx="857.6" cy="111.9" r="9.5" fill="#fff4f4" stroke="#ffbcbc" stroke-width="1.6"/>
<circle cx="926.8" cy="105.8" r="9.5" fill="#fff4f4" stroke="#ffbcbc" stroke-width="1.6"/>
<circle cx="996.0" cy="99.5" r="9.5" fill="#fff4f4" stroke="#ffbcbc" stroke-width="1.6"/>
<circle cx="1065.2" cy="98.6" r="9.5" fill="#fff4f4" stroke="#ffbcbc" stroke-width="1.6"/>
<circle cx="1134.4" cy="103.8" r="9.5" fill="#fff4f4" stroke="#ffbcbc" stroke-width="1.6"/>
<circle cx="1203.6" cy="124.3" r="9.5" fill="#fff4f4" stroke="#ffbcbc" stroke-width="1.6"/>
<circle cx="1272.8" cy="170.8" r="9.5" fill="#fff4f4" stroke="#ffbcbc" stroke-width="1.6"/>
<circle cx="1342.0" cy="238.8" r="9.5" fill="#fff4f4" stroke="#ffbcbc" stroke-width="1.6"/>
<circle cx="1411.2" cy="312.2" r="9.5" fill="#fff4f4" stroke="#ffbcbc" stroke-width="1.6"/>
<circle cx="1480.4" cy="383.1" r="9.5" fill="#fff4f4" stroke="#ffbcbc" stroke-width="1.6"/>
<circle cx="1549.9" cy="516.8" r="9.5" fill="#fff4f4" stroke="#ffbcbc" stroke-width="1.6"/>
<circle cx="1623.6" cy="288.2" r="9.5" fill="#fff4f4" stroke="#ffbcbc" stroke-width="1.6"/>
<circle cx="1691.5" cy="227.0" r="9.5" fill="#fff4f4" stroke="#ffbcbc" stroke-width="1.6"/>
<circle cx="1759.5" cy="833.1" r="9.5" fill="#fff4f4" stroke="#ffbcbc" stroke-width="1.6"/>
</g>
<g>
<path d="M349.2,1256.0L350.3,1252.4L351.4,1248.8L352.4,1245.2L353.5,1241.6L354.6,1238.0L355.6,1234.7L356.5,1231.4L357.5,1228.2L358.5,1224.8L359.5,1221.3L360.7,1217.6L361.8,1214.2L362.9,1210.7L364.0,1207.2L365.2,1203.7L366.3,1200.1L367.5,1196.5L368.7,1192.9L369.9,1189.2L371.2,1185.4L372.4,1181.6L373.7,1177.7L375.0,1173.8L376.5,1169.3L378.0,1164.8L379.5,1160.3L380.9,1155.8L382.4,1151.3L384.0,1146.7L385.5,1142.1L387.0,1137.5L388.6,1132.8L390.1,1128.1L391.7,1123.3L393.4,1118.4L395.0,1113.4L396.7,1108.4L398.5,1103.3L400.3,1098.0L403.3,1088.9L406.5,1079.7L409.6,1070.3L412.8,1060.9L416.1,1051.3L419.4,1041.7L422.6,1032.0L426.0,1022.3L429.3,1012.5L432.6,1002.7L436.0,993.0L439.3,983.2L442.7,973.4L446.0,963.7L449.4,954.1L452.7,944.5L455.9,935.2L459.2,925.9L462.5,916.6L465.8,907.3L469.0,898.0L472.3,888.7L475.6,879.5L478.9,870.2L482.2,861.0L485.5,851.7L488.8,842.4L492.1,833.2L495.4,823.9L498.7,814.6L501.9,805.3L505.2,796.0L508.5,786.5L511.8,777.0L515.1,767.5L518.4,758.0L521.6,748.5L524.9,738.9L528.2,729.4L531.5,719.9L534.7,710.3L538.0,700.8L541.3,691.3L544.6,681.7L547.9,672.2L551.2,662.6L554.5,653.1L557.8,643.5L561.2,633.7L564.7,623.9L568.1,614.0L571.6,604.0L575.1,594.1L578.6,584.1L582.1,574.2L585.6,564.2L589.1,554.3L592.5,544.5L596.0,534.7L599.4,525.0L602.8,515.3L606.2,505.8L609.5,496.3L612.8,487.0L614.9,481.1L616.9,475.3L619.0,469.6L620.9,464.0L622.9,458.5L624.8,453.1L626.7,447.7L628.6,442.3L630.5,437.0L632.3,431.7L634.2,426.5L636.1,421.2L638.0,416.0L639.9,410.7L641.9,405.4L643.8,400.0L645.7,394.9L647.6,389.7L649.6,384.6L651.5,379.5L653.4,374.3L655.4,369.2L657.4,364.1L659.3,359.0L661.3,353.9L663.2,348.9L665.2,343.8L667.1,338.8L669.0,333.8L670.8,328.8L672.7,323.9L674.5,319.0L675.9,315.1L677.2,311.3L678.5,307.6L679.8,303.8L681.0,300.1L682.2,296.5L683.4,292.8L684.6,289.2L685.9,285.5L687.1,281.9L688.4,278.3L689.7,274.6L691.1,271.0L692.5,267.3L694.0,263.6L695.7,259.5L697.6,255.3L699.4,251.1L701.4,246.8L703.3,242.6" stroke="#0000ff" stroke-width="7.5"/>
<path d="M703.3,242.6L705.3,238.3L707.3,234.1L709.4,229.8L711.4,225.6L713.4,221.4L715.4,217.2L717.4,213.1L719.4,209.0L721.3,205.0L723.2,201.0" stroke="#0000ff" stroke-width="7.0"/>
<path d="M723.2,201.0L725.0,197.1L726.8,193.0L728.4,189.3L729.8,185.7L731.2,182.2L732.6,178.9L734.2,175.5" stroke="#0000ff" stroke-width="7.5"/>
<path d="M734.2,175.5L736.0,172.0L737.8,168.7L739.7,165.3L741.6,161.9L743.6,158.4L745.7,155.1" stroke="#0000ff" stroke-width="7.0"/>
<path d="M745.7,155.1L747.8,151.8L750.0,148.6L752.2,145.6L754.5,142.7" stroke="#0000ff" stroke-width="6.5"/>
<path d="M754.5,142.7L757.3,139.8L760.3,137.3" stroke="#0000ff" stroke-width="6.0"/>
<path d="M760.3,137.3L763.5,135.1" stroke="#0000ff" stroke-width="6.5"/>
<path d="M763.5,135.1L766.8,133.1L770.3,131.0L773.6,129.0L777.1,127.0L780.7,125.1L784.3,123.2L787.9,121.4L791.5,119.6" stroke="#0000ff" stroke-width="7.0"/>
<path d="M791.5,119.6L795.0,118.0L798.2,116.6L801.3,115.4L804.4,114.4L807.6,113.4L811.0,112.5" stroke="#0000ff" stroke-width="7.5"/>
<path d="M811.0,112.5L814.4,111.6L818.0,110.8L821.5,110.0L825.2,109.2L828.9,108.5L832.6,107.8L836.3,107.1L840.0,106.5L843.6,106.0L847.1,105.5L850.7,105.0L854.3,104.6L857.9,104.2L861.6,103.8L865.3,103.5L869.1,103.2L873.0,103.0L876.6,102.8L880.3,102.7L884.0,102.6L887.8,102.5L891.6,102.4L895.4,102.3L899.2,102.3L903.0,102.2L906.9,102.2L910.7,102.2L914.6,102.1L918.4,102.1L922.2,102.0L926.0,102.0L929.7,101.9L933.4,101.9L937.2,101.8L940.9,101.8L944.6,101.7L948.3,101.7L952.0,101.7L955.7,101.6L959.5,101.6L963.2,101.6L966.9,101.5L970.6,101.5L974.3,101.5L978.0,101.5L981.9,101.5L985.9,101.5L989.8,101.5L993.7,101.4L997.6,101.4L1001.5,101.4L1005.5,101.4L1009.4,101.4L1013.3,101.5L1017.2,101.6L1021.1,101.7L1025.1,101.8L1029.0,102.0L1032.8,102.2L1036.5,102.4L1040.3,102.7L1044.1,102.9L1047.9,103.2L1051.7,103.5L1055.4,103.8L1059.2,104.1L1063.0,104.5L1066.8,104.9L1070.5,105.4L1074.3,105.9L1078.0,106.4L1081.8,107.0L1085.5,107.6L1089.2,108.2L1092.9,108.8L1096.6,109.5L1100.3,110.2L1104.0,110.9L1107.7,111.7L1111.4,112.5L1115.0,113.4" stroke="#0000ff" stroke-width="8.0"/>
<path d="M1115.0,113.4L1118.7,114.3L1122.3,115.4L1125.9,116.5L1129.5,117.7L1133.0,119.0L1136.6,120.4L1140.2,121.9L1143.7,123.5L1147.3,125.1" stroke="#0000ff" stroke-width="7.5"/>
<path d="M1147.3,125.1L1150.9,126.7L1154.4,128.5L1157.9,130.3L1161.4,132.1L1164.9,134.1L1168.3,136.0L1171.7,138.1L1175.1,140.2" stroke="#0000ff" stroke-width="7.0"/>
<path d="M1175.1,140.2L1178.4,142.4L1181.7,144.7L1185.0,147.0L1188.5,149.6L1191.9,152.2L1195.4,155.0" stroke="#0000ff" stroke-width="6.5"/>
<path d="M1195.4,155.0L1198.7,157.8L1202.1,160.6L1205.5,163.5L1208.8,166.5L1212.1,169.5L1215.3,172.6L1218.6,175.7" stroke="#0000ff" stroke-width="6.0"/>
<path d="M1218.6,175.7L1221.8,178.8L1225.0,182.0L1228.1,185.2L1231.3,188.5" stroke="#0000ff" stroke-width="5.5"/>
<path d="M1231.3,188.5L1234.4,191.7L1237.5,195.0L1240.9,198.6L1244.2,202.3L1247.4,206.1L1250.7,209.9L1253.9,213.7L1257.1,217.6L1260.2,221.5L1263.4,225.4" stroke="#0000ff" stroke-width="6.0"/>
<path d="M1263.4,225.4L1266.5,229.4L1269.6,233.3L1272.7,237.3L1275.9,241.2L1279.0,245.2L1282.2,249.2" stroke="#0000ff" stroke-width="6.5"/>
<path d="M1282.2,249.2L1285.3,253.1L1288.5,257.0L1291.8,261.0L1295.1,265.0L1298.3,269.0L1301.6,272.9L1304.9,276.9L1308.2,280.9L1311.5,284.9L1314.8,288.9L1318.1,292.9L1321.4,296.9L1324.6,300.9L1327.9,304.9L1331.2,308.9L1334.5,313.0L1337.7,317.0L1341.0,321.0L1344.3,325.0L1347.5,329.1L1350.8,333.1L1354.1,337.2L1357.3,341.2L1360.6,345.2L1363.8,349.3L1367.1,353.3L1370.3,357.4" stroke="#0000ff" stroke-width="6.0"/>
<path d="M1370.3,357.4L1373.6,361.5L1376.8,365.5L1380.1,369.6L1383.3,373.7L1386.5,377.8L1389.8,381.9L1393.0,386.0L1396.3,390.3L1399.7,394.5L1403.1,398.7L1406.4,403.0L1409.8,407.2L1413.2,411.4L1416.6,415.7L1419.9,420.0L1423.3,424.2L1426.6,428.5L1429.9,432.9L1433.2,437.2L1436.4,441.6L1439.7,446.0L1442.9,450.5L1446.0,455.0L1449.4,459.9L1452.8,465.0L1456.1,470.1L1459.5,475.2L1462.9,480.4L1466.2,485.6" stroke="#0000ff" stroke-width="6.5"/>
<path d="M1466.2,485.6L1469.5,490.9L1472.7,496.1L1476.0,501.4L1479.2,506.6L1482.3,511.8L1485.4,517.0L1488.5,522.1L1491.5,527.1L1494.4,532.1L1497.2,537.0L1499.4,540.8L1501.4,544.5L1503.1,548.0L1504.7,551.4" stroke="#0000ff" stroke-width="7.0"/>
<path d="M1504.7,551.4L1506.2,554.7L1507.6,558.0L1509.1,561.2L1510.5,564.6L1512.0,568.0L1513.6,571.5L1515.2,575.0L1516.7,578.5L1518.3,582.0L1519.8,585.5L1521.3,589.0L1522.7,592.6L1524.1,596.3L1525.4,600.0L1526.6,603.7L1527.7,607.4L1528.8,611.1L1529.8,614.9L1530.8,618.7" stroke="#0000ff" stroke-width="7.5"/>
<path d="M1530.8,618.7L1531.8,622.6L1532.7,626.4L1533.7,630.3L1534.6,634.1L1535.5,638.0L1536.4,641.8L1537.3,645.6L1538.2,649.5L1539.0,653.3L1539.8,657.2L1540.6,661.1L1541.4,665.0L1542.2,668.8L1543.0,672.6L1543.8,676.4L1544.7,680.0L1545.5,683.6" stroke="#0000ff" stroke-width="8.0"/>
<path d="M1545.5,683.6L1546.5,687.1L1547.6,690.2L1548.7,693.2L1549.7,696.3" stroke="#0000ff" stroke-width="7.5"/>
<path d="M1549.7,696.3L1550.5,700.0L1551.1,703.6L1551.6,707.3L1552.1,711.1L1552.6,715.0L1553.0,718.9L1553.4,722.9L1553.9,726.9L1554.3,730.9L1554.7,734.9L1555.2,738.8L1555.6,742.6L1556.1,746.4L1556.6,750.0L1557.2,754.1L1557.9,757.8L1558.6,761.4L1559.3,764.9L1560.1,768.4L1561.0,772.0L1561.9,775.7" stroke="#0000ff" stroke-width="8.0"/>
<path d="M1561.9,775.7L1562.9,779.4L1563.9,783.1L1564.9,786.8L1565.9,790.6L1567.0,794.3L1568.0,798.0" stroke="#0000ff" stroke-width="7.5"/>
<path d="M1568.0,798.0L1569.0,794.3L1570.0,790.6L1571.0,786.8L1571.9,783.1" stroke="#0000ff" stroke-width="7.5"/>
<path d="M1571.9,783.1L1572.9,779.4L1573.7,775.7L1574.5,772.0L1575.1,768.3L1575.6,764.6L1576.0,761.0L1576.3,757.4L1576.7,753.7L1577.0,750.0L1577.3,746.6L1577.7,743.2L1578.0,739.8L1578.3,736.3L1578.5,732.8L1578.8,729.2L1579.1,725.5L1579.4,721.9L1579.6,718.1L1579.9,714.4L1580.1,710.6L1580.3,706.7L1580.6,702.9L1580.8,699.0L1581.0,695.1L1581.3,691.3L1581.5,687.4L1581.7,683.6L1581.9,679.8L1582.1,676.0L1582.3,672.2L1582.4,668.4L1582.6,664.6L1582.7,660.8L1582.9,657.0L1583.1,653.2L1583.3,649.4L1583.5,645.6L1583.8,641.8L1584.1,637.9L1584.4,634.0L1584.8,630.1L1585.1,626.3L1585.5,622.4L1585.9,618.5L1586.3,614.6L1586.7,610.7L1587.1,606.8L1587.5,602.9L1587.8,599.0L1588.1,595.1L1588.5,591.1L1588.8,587.1L1589.1,583.2L1589.5,579.2L1589.8,575.3L1590.1,571.3L1590.4,567.3L1590.7,563.4L1590.9,559.4L1591.2,555.5L1591.4,551.7L1591.6,547.9L1591.8,544.0L1592.0,540.2L1592.2,536.4L1592.3,532.6L1592.5,528.8L1592.7,525.0L1592.9,521.2L1593.1,517.4L1593.3,513.6L1593.5,509.8L1593.8,506.0L1594.1,502.2L1594.4,498.4L1594.7,494.6L1595.0,490.8L1595.3,487.0L1595.6,483.2L1595.9,479.4L1596.2,475.6L1596.5,471.8L1596.8,467.9L1597.1,464.0L1597.4,460.0L1597.7,456.0L1598.0,452.0L1598.3,448.1L1598.6,444.2L1599.0,440.3L1599.3,436.4L1599.6,432.7L1600.0,429.0L1600.5,424.8L1601.1,420.9L1601.6,417.1L1602.2,413.4L1602.7,409.5L1603.1,406.2L1603.4,402.9L1603.7,399.5L1603.9,396.2L1604.2,392.7L1604.5,389.2L1604.8,385.5L1605.1,381.9L1605.4,378.1L1605.6,374.4L1605.9,370.6L1606.1,366.7L1606.4,362.9L1606.7,359.0L1607.0,355.1L1607.3,351.3L1607.6,347.4L1608.0,343.6L1608.4,339.8L1608.8,335.9L1609.3,332.1L1609.8,328.2L1610.3,324.4L1610.8,320.5L1611.3,316.7L1611.8,312.9L1612.3,309.1L1612.8,305.4L1613.2,301.8L1613.6,298.1L1613.9,294.4L1614.2,290.9L1614.5,287.5L1614.8,284.0L1615.1,280.7L1615.4,277.3L1615.8,273.7L1616.2,270.2L1616.6,266.8L1617.0,263.4L1617.4,260.0L1617.7,256.5L1618.0,253.0L1618.3,249.5L1618.8,245.9L1619.3,242.5L1619.9,238.9L1620.5,235.4L1621.2,231.8L1621.9,228.3L1622.7,225.0L1623.5,221.9" stroke="#0000ff" stroke-width="8.0"/>
<path d="M1623.5,221.9L1624.3,218.9L1625.2,216.1" stroke="#0000ff" stroke-width="7.5"/>
<path d="M1625.2,216.1L1626.5,213.5" stroke="#0000ff" stroke-width="7.0"/>
<path d="M1626.5,213.5L1628.4,210.8" stroke="#0000ff" stroke-width="6.5"/>
<path d="M1628.4,210.8L1630.7,208.4" stroke="#0000ff" stroke-width="6.0"/>
<path d="M1630.7,208.4L1633.2,206.5" stroke="#0000ff" stroke-width="6.5"/>
<path d="M1633.2,206.5L1635.6,205.5" stroke="#0000ff" stroke-width="7.5"/>
<path d="M1635.6,205.5L1638.3,205.0L1641.0,204.5L1644.1,203.9L1647.2,203.2" stroke="#0000ff" stroke-width="8.0"/>
<path d="M1647.2,203.2L1650.0,202.0" stroke="#0000ff" stroke-width="7.5"/>
<path d="M1650.0,202.0L1652.3,200.1L1654.3,197.6" stroke="#0000ff" stroke-width="6.0"/>
<path d="M1654.3,197.6L1656.0,195.0" stroke="#0000ff" stroke-width="6.5"/>
<path d="M1656.0,195.0L1657.8,192.0L1659.4,188.8" stroke="#0000ff" stroke-width="7.0"/>
<path d="M1659.4,188.8L1660.7,185.3L1661.7,182.1" stroke="#0000ff" stroke-width="7.5"/>
<path d="M1661.7,182.1L1662.5,178.7L1663.3,175.3L1664.1,171.8" stroke="#0000ff" stroke-width="8.0"/>
<path d="M1664.1,171.8L1665.0,168.5L1665.9,165.1L1666.8,161.7L1667.8,158.5L1669.0,155.5" stroke="#0000ff" stroke-width="7.5"/>
<path d="M1669.0,155.5L1670.9,152.0" stroke="#0000ff" stroke-width="7.0"/>
<path d="M1670.9,152.0L1673.0,150.5" stroke="#0000ff" stroke-width="6.5"/>
<path d="M1673.0,150.5L1674.3,152.0" stroke="#0000ff" stroke-width="6.0"/>
<path d="M1674.3,152.0L1675.5,154.9L1676.5,158.0" stroke="#0000ff" stroke-width="7.5"/>
<path d="M1676.5,158.0L1677.3,161.4L1678.0,164.9L1678.6,168.7L1679.2,172.7L1679.8,176.4L1680.3,180.2L1680.9,184.1L1681.4,188.0L1681.9,191.9L1682.5,196.0L1682.9,200.0L1683.4,204.1L1683.8,207.8L1684.1,211.6L1684.5,215.4L1684.8,219.2L1685.2,223.1L1685.5,226.9L1685.8,230.8L1686.1,234.6L1686.4,238.4L1686.7,242.2L1687.0,245.9L1687.3,250.0L1687.7,254.0L1688.0,257.9L1688.3,261.9L1688.6,265.8L1688.9,269.6L1689.2,273.5L1689.6,277.3L1690.0,280.9L1690.4,284.3L1690.9,287.7L1691.3,291.1L1691.8,294.5L1692.2,298.1L1692.6,301.8L1692.9,305.4L1693.2,309.1L1693.5,312.9L1693.8,316.7L1694.1,320.5L1694.4,324.4L1694.7,328.2L1695.0,332.1L1695.2,335.9L1695.5,339.8L1695.8,343.6L1696.1,347.4L1696.4,351.2L1696.6,355.0L1696.9,358.8L1697.2,362.6L1697.4,366.5L1697.7,370.3L1698.0,374.1L1698.3,377.9L1698.6,381.7L1698.9,385.5L1699.2,389.3L1699.6,393.1L1700.0,396.9L1700.3,400.7L1700.7,404.5L1701.1,408.3L1701.5,412.1L1701.9,415.9L1702.3,419.7L1702.7,423.5L1703.1,427.3L1703.5,431.0L1703.9,434.7L1704.2,438.4L1704.6,442.1L1705.0,445.7L1705.4,449.4L1705.8,453.1L1706.2,456.8L1706.6,460.5L1706.9,464.3L1707.3,468.0L1707.7,471.8L1708.0,475.5L1708.4,479.3L1708.7,483.1L1709.1,487.0L1709.4,490.8L1709.8,494.6L1710.1,498.4L1710.5,502.2L1710.8,506.0L1711.2,509.8L1711.5,513.6L1711.8,517.4L1712.2,521.3L1712.5,525.1L1712.8,528.9L1713.1,532.7L1713.4,536.5L1713.7,540.3L1714.0,544.1L1714.4,547.9L1714.7,551.7L1715.1,555.5L1715.5,559.3L1715.9,563.0L1716.3,566.7L1716.7,570.4L1717.2,574.1L1717.6,577.8L1718.1,581.6L1718.5,585.4L1718.9,589.3L1719.4,593.2L1719.8,597.3L1720.2,601.5L1720.6,605.7L1721.0,609.9L1721.5,614.2L1721.9,618.5L1722.3,622.9L1722.7,627.2L1723.1,631.6L1723.5,636.0L1723.9,640.5L1724.3,644.9L1724.7,649.4L1725.2,653.8L1725.6,658.3L1726.0,662.8L1726.5,667.3L1727.0,672.6L1727.6,677.9L1728.2,683.2L1728.7,688.6L1729.3,694.0L1729.9,699.4L1730.5,704.8L1731.1,710.2L1731.7,715.7L1732.3,721.1L1732.9,726.6L1733.5,732.0L1734.1,737.4L1734.7,742.8L1735.3,748.2L1735.9,753.6L1736.5,758.8L1737.1,764.1L1737.8,769.3L1738.4,774.5L1739.0,779.8L1739.7,785.0L1740.3,790.2L1741.0,795.4L1741.6,800.6L1742.3,805.9L1742.9,811.1L1743.5,816.3L1744.1,821.5L1744.7,826.8L1745.3,832.0L1745.9,837.3L1746.5,842.8L1747.0,848.2L1747.6,853.7L1748.1,859.2L1748.6,864.7L1749.1,870.2L1749.6,875.7L1750.1,881.2L1750.6,886.7L1751.1,892.2L1751.6,897.7L1752.0,903.1L1752.5,908.6L1753.0,914.1L1753.5,919.6L1754.0,925.0L1754.5,930.2L1754.9,935.3L1755.4,940.5L1755.8,945.7L1756.3,950.8L1756.7,955.9L1757.2,961.1L1757.6,966.2L1758.0,971.3L1758.5,976.4L1759.0,981.6L1759.4,986.7L1759.9,991.8L1760.4,997.0L1761.0,1002.1L1761.5,1007.3L1762.1,1012.7L1762.7,1018.1L1763.3,1023.4L1764.0,1028.8L1764.7,1034.2L1765.4,1039.6L1766.1,1045.0L1766.8,1050.4L1767.5,1055.8L1768.2,1061.2L1768.8,1066.6L1769.5,1072.0L1770.2,1077.4L1770.8,1082.8L1771.4,1088.2L1772.0,1093.6L1772.5,1098.9L1773.1,1104.1L1773.6,1109.4L1774.0,1114.7L1774.5,1120.0L1775.0,1125.3L1775.4,1130.6L1775.8,1135.8L1776.3,1141.1L1776.7,1146.4L1777.1,1151.6L1777.5,1156.8L1778.0,1162.0L1778.4,1167.1L1778.8,1172.2L1779.3,1177.3L1779.7,1181.5L1780.1,1185.6L1780.5,1189.7L1780.9,1193.9L1781.2,1197.9L1781.6,1202.0L1782.0,1206.0L1782.4,1210.0L1782.8,1214.0L1783.2,1217.9L1783.6,1221.8L1783.9,1225.7L1784.3,1229.5L1784.7,1233.3L1785.0,1237.0L1785.4,1241.0L1785.7,1244.7L1785.9,1248.3L1786.2,1251.7L1786.5,1255.1L1786.7,1258.5L1787.0,1262.0" stroke="#0000ff" stroke-width="8.0"/>
<path d="M1787.0,1262.0L1788.0,1276.9L1789.0,1291.8L1790.0,1306.6L1791.0,1321.5L1792.0,1336.4L1793.0,1351.2L1794.0,1366.1L1795.0,1381.0L1796.0,1395.9L1797.0,1410.8L1798.0,1425.6L1799.0,1440.5L1800.0,1455.4L1801.0,1470.2L1802.0,1485.1L1803.0,1500.0" stroke="#0000ff" stroke-width="8.0"/>
<path stroke-linecap="butt" d="M1803.0,1500.0L1804.1,1485.1L1805.2,1470.0L1806.3,1454.9L1807.4,1439.8L1808.5,1424.6L1809.7,1409.4L1810.8,1394.2L1811.9,1379.0L1813.0,1363.9L1814.1,1348.9L1815.2,1334.0L1816.3,1319.3L1817.3,1304.7L1818.3,1290.2L1819.3,1276.0L1820.3,1262.0L1820.6,1256.8L1820.8,1252.8L1820.8,1249.5L1820.8,1246.6L1820.8,1243.8L1820.8,1240.7L1821.0,1237.0L1821.2,1233.3L1821.4,1229.5L1821.7,1225.7L1822.0,1221.8L1822.2,1217.9L1822.5,1214.0L1822.8,1210.0L1823.1,1206.0L1823.4,1202.0L1823.7,1197.9L1823.9,1193.9L1824.2,1189.8L1824.4,1185.6L1824.6,1181.5L1824.8,1177.3L1825.0,1172.2L1825.2,1167.1L1825.3,1162.0L1825.5,1156.8L1825.6,1151.6L1825.7,1146.4L1825.8,1141.1L1825.9,1135.9L1826.0,1130.6L1826.1,1125.3L1826.2,1120.0L1826.3,1114.7L1826.4,1109.4L1826.4,1104.1L1826.5,1098.9L1826.6,1093.6L1826.7,1088.2L1826.8,1082.8L1826.8,1077.5L1826.9,1072.1L1826.9,1066.7L1827.0,1061.3L1827.0,1055.9L1827.1,1050.5L1827.1,1045.0L1827.2,1039.6L1827.2,1034.2L1827.3,1028.8L1827.3,1023.5L1827.4,1018.1L1827.4,1012.7L1827.5,1007.3L1827.6,1002.1L1827.6,996.8L1827.7,991.6L1827.8,986.3L1827.9,981.1L1828.0,975.9L1828.1,970.6L1828.1,965.4L1828.2,960.2L1828.3,955.0L1828.4,949.7L1828.5,944.5L1828.6,939.3L1828.8,934.1L1828.9,928.8L1829.0,923.6L1829.1,918.4L1829.3,913.2L1829.4,907.9L1829.6,902.7L1829.7,897.5L1829.9,892.3L1830.1,887.1L1830.2,881.9L1830.4,876.7L1830.6,871.5L1830.7,866.2L1830.9,861.0L1831.1,855.8L1831.3,850.5L1831.4,845.3L1831.6,840.0L1831.8,834.4L1832.0,828.9L1832.2,823.4L1832.4,818.0L1832.6,812.5L1832.8,807.0L1833.0,801.5L1833.2,796.0L1833.4,790.5L1833.6,784.9L1833.8,779.3L1833.9,773.6L1834.1,767.8L1834.2,762.0L1834.4,756.0L1834.5,750.0L1834.7,741.0L1834.8,731.8L1834.9,722.5L1835.1,713.1L1835.2,703.5L1835.3,694.0L1835.4,684.3L1835.4,674.7L1835.5,665.1L1835.6,655.5L1835.7,645.9L1835.7,636.5L1835.8,627.1L1835.9,617.9L1835.9,608.9L1836.0,600.0L1836.0,595.4L1836.1,590.9L1836.1,586.5L1836.1,582.2L1836.1,578.1L1836.1,574.0L1836.1,570.0L1836.1,566.0L1836.2,562.1L1836.2,558.2L1836.2,554.3L1836.2,550.4L1836.2,546.5L1836.2,542.6L1836.2,538.6L1836.2,534.5" stroke="#0000ff" stroke-width="8.0"/>
</g>
<g>
<polygon points="354.0,1225.5 365.8,1247.5 342.2,1247.5" fill="#f2f2ff" stroke="#bcbcff" stroke-width="1.6"/>
<polygon points="406.0,1066.5 417.8,1088.5 394.2,1088.5" fill="#f2f2ff" stroke="#bcbcff" stroke-width="1.6"/>
<polygon points="458.0,914.8 469.8,936.8 446.2,936.8" fill="#f2f2ff" stroke="#bcbcff" stroke-width="1.6"/>
<polygon points="510.0,767.7 521.8,789.7 498.2,789.7" fill="#f2f2ff" stroke="#bcbcff" stroke-width="1.6"/>
<polygon points="562.0,616.9 573.8,638.9 550.2,638.9" fill="#f2f2ff" stroke="#bcbcff" stroke-width="1.6"/>
<polygon points="614.0,469.1 625.8,491.1 602.2,491.1" fill="#f2f2ff" stroke="#bcbcff" stroke-width="1.6"/>
<polygon points="666.0,327.1 677.8,349.1 654.2,349.1" fill="#f2f2ff" stroke="#bcbcff" stroke-width="1.6"/>
<polygon points="718.0,197.4 729.8,219.4 706.2,219.4" fill="#f2f2ff" stroke="#bcbcff" stroke-width="1.6"/>
<polygon points="770.0,116.7 781.8,138.7 758.2,138.7" fill="#f2f2ff" stroke="#bcbcff" stroke-width="1.6"/>
<polygon points="822.0,95.4 833.8,117.4 810.2,117.4" fill="#f2f2ff" stroke="#bcbcff" stroke-width="1.6"/>
<polygon points="874.0,88.4 885.8,110.4 862.2,110.4" fill="#f2f2ff" stroke="#bcbcff" stroke-width="1.6"/>
<polygon points="926.0,87.5 937.8,109.5 914.2,109.5" fill="#f2f2ff" stroke="#bcbcff" stroke-width="1.6"/>
<polygon points="978.0,87.0 989.8,109.0 966.2,109.0" fill="#f2f2ff" stroke="#bcbcff" stroke-width="1.6"/>
<polygon points="1030.0,87.5 1041.8,109.5 1018.2,109.5" fill="#f2f2ff" stroke="#bcbcff" stroke-width="1.6"/>
<polygon points="1082.0,92.5 1093.8,114.5 1070.2,114.5" fill="#f2f2ff" stroke="#bcbcff" stroke-width="1.6"/>
<polygon points="1134.0,104.9 1145.8,126.9 1122.2,126.9" fill="#f2f2ff" stroke="#bcbcff" stroke-width="1.6"/>
<polygon points="1186.0,133.2 1197.8,155.2 1174.2,155.2" fill="#f2f2ff" stroke="#bcbcff" stroke-width="1.6"/>
<polygon points="1238.0,181.0 1249.8,203.0 1226.2,203.0" fill="#f2f2ff" stroke="#bcbcff" stroke-width="1.6"/>
<polygon points="1290.0,244.3 1301.8,266.3 1278.2,266.3" fill="#f2f2ff" stroke="#bcbcff" stroke-width="1.6"/>
<polygon points="1342.0,307.7 1353.8,329.7 1330.2,329.7" fill="#f2f2ff" stroke="#bcbcff" stroke-width="1.6"/>
<polygon points="1394.0,372.8 1405.8,394.8 1382.2,394.8" fill="#f2f2ff" stroke="#bcbcff" stroke-width="1.6"/>
<polygon points="1446.0,440.5 1457.8,462.5 1434.2,462.5" fill="#f2f2ff" stroke="#bcbcff" stroke-width="1.6"/>
<polygon points="1498.0,523.8 1509.8,545.8 1486.2,545.8" fill="#f2f2ff" stroke="#bcbcff" stroke-width="1.6"/>
<polygon points="1551.4,684.5 1563.2,706.5 1539.7,706.5" fill="#f2f2ff" stroke="#bcbcff" stroke-width="1.6"/>
<polygon points="1602.7,397.5 1614.5,419.5 1591.0,419.5" fill="#f2f2ff" stroke="#bcbcff" stroke-width="1.6"/>
<polygon points="1654.0,183.5 1665.8,205.5 1642.2,205.5" fill="#f2f2ff" stroke="#bcbcff" stroke-width="1.6"/>
<polygon points="1707.3,445.5 1719.0,467.5 1695.5,467.5" fill="#f2f2ff" stroke="#bcbcff" stroke-width="1.6"/>
<polygon points="1757.5,934.5 1769.2,956.5 1745.8,956.5" fill="#f2f2ff" stroke="#bcbcff" stroke-width="1.6"/>
</g>
<g>
<path d="M352.8,1256.0L353.9,1252.4L355.1,1248.8L356.2,1245.2L357.4,1241.6L358.5,1238.0L359.6,1234.7L360.6,1231.4L361.6,1228.2L362.7,1224.8L363.8,1221.3L365.0,1217.6L366.0,1214.2L367.1,1210.7L368.2,1207.2L369.3,1203.7L370.4,1200.1L371.5,1196.5L372.7,1192.9L373.9,1189.2L375.1,1185.4L376.3,1181.6L377.5,1177.7L378.8,1173.8L380.3,1169.3L381.8,1164.8L383.2,1160.3L384.7,1155.8L386.3,1151.3L387.8,1146.7L389.3,1142.1L390.9,1137.5L392.4,1132.8L394.0,1128.1L395.7,1123.3L397.3,1118.4L399.0,1113.5L400.7,1108.4L402.4,1103.3L404.2,1098.0L407.3,1088.9L410.4,1079.7L413.6,1070.3L416.7,1060.9L420.0,1051.3L423.2,1041.7L426.5,1032.0L429.8,1022.3L433.1,1012.5L436.4,1002.7L439.8,993.0L443.1,983.2L446.4,973.4L449.7,963.7L453.1,954.1L456.4,944.5L459.6,935.2L462.8,925.9L466.1,916.6L469.3,907.3L472.6,898.0L475.8,888.7L479.1,879.5L482.4,870.2L485.6,861.0L488.9,851.7L492.2,842.4L495.4,833.2L498.7,823.9L502.0,814.6L505.2,805.3L508.4,796.0L511.7,786.5L515.0,777.0L518.3,767.5L521.6,758.0L524.8,748.5L528.1,738.9L531.4,729.4L534.6,719.9L537.9,710.3L541.2,700.8L544.4,691.3L547.7,681.7L551.0,672.2L554.2,662.6L557.5,653.1L560.8,643.5L564.2,633.7L567.6,623.9L571.1,614.0L574.5,604.0L578.0,594.1L581.4,584.1L584.9,574.2L588.3,564.3L591.8,554.4L595.2,544.5L598.6,534.7L602.0,525.0L605.4,515.3L608.7,505.8L611.9,496.3L615.2,487.0L617.2,481.1L619.2,475.3L621.1,469.6L623.0,464.0L624.9,458.5L626.8,453.1L628.6,447.7L630.4,442.4L632.2,437.1L634.0,431.8L635.8,426.5L637.6,421.2L639.4,416.0L641.2,410.7L643.0,405.4L644.8,400.0L646.6,394.9L648.4,389.8L650.2,384.6L652.0,379.5L653.8,374.4L655.6,369.2L657.4,364.1L659.1,359.0L660.9,353.9L662.7,348.9L664.5,343.8L666.2,338.8L667.9,333.8L669.6,328.8L671.3,323.9L673.0,319.0L674.3,315.1L675.5,311.3L676.7,307.6L677.9,303.8L679.0,300.1L680.1,296.5L681.3,292.8L682.4,289.2L683.5,285.6L684.6,281.9L685.8,278.3L687.0,274.7L688.3,271.0L689.6,267.3L691.0,263.6L692.6,259.5L694.3,255.3L696.0,251.1L697.7,246.8L699.5,242.6L701.4,238.3L703.2,234.1L705.1,229.8L706.9,225.6L708.8,221.4L710.6,217.2L712.4,213.0L714.2,208.9L716.0,204.9L717.7,200.9L719.3,197.0L720.9,193.0L722.3,189.2L723.6,185.6L724.8,182.2L726.0,178.9L727.4,175.5L729.0,172.0" stroke="#808080" stroke-width="7.5"/>
<path d="M729.0,172.0L730.6,168.7L732.2,165.3L733.8,161.8L735.5,158.4L737.2,155.0L739.1,151.7L741.1,148.5" stroke="#808080" stroke-width="7.0"/>
<path d="M741.1,148.5L743.2,145.5" stroke="#808080" stroke-width="6.5"/>
<path d="M743.2,145.5L745.5,142.7" stroke="#808080" stroke-width="6.0"/>
<path d="M745.5,142.7L748.0,140.2" stroke="#808080" stroke-width="5.5"/>
<path d="M748.0,140.2L750.8,137.9" stroke="#808080" stroke-width="6.0"/>
<path d="M750.8,137.9L753.7,135.8" stroke="#808080" stroke-width="6.5"/>
<path d="M753.7,135.8L756.8,133.9L760.0,132.1L763.2,130.3L766.4,128.6L769.5,126.8L772.6,125.0L775.7,123.1L778.9,121.3L782.0,119.5L785.2,117.9L788.4,116.3" stroke="#808080" stroke-width="7.0"/>
<path d="M788.4,116.3L791.7,114.8L795.0,113.5L798.7,112.2L802.4,111.1L806.1,110.2" stroke="#808080" stroke-width="7.5"/>
<path d="M806.1,110.2L809.9,109.3L813.8,108.6L817.8,108.0L822.0,107.5L825.7,107.1L829.5,106.8L833.3,106.5L837.2,106.3L841.1,106.1L845.1,105.9L849.1,105.7L853.1,105.6L857.1,105.4L861.1,105.3L865.1,105.2L869.0,105.1L873.0,105.0L876.8,104.9L880.5,104.8L884.3,104.7L888.1,104.7L891.9,104.6L895.7,104.6L899.5,104.6L903.3,104.5L907.1,104.5L910.9,104.5L914.6,104.5L918.4,104.5L922.2,104.5L926.0,104.5L929.7,104.5L933.4,104.5L937.2,104.5L940.9,104.4L944.6,104.4L948.3,104.4L952.0,104.4L955.7,104.4L959.4,104.5L963.2,104.5L966.9,104.6L970.6,104.7L974.3,104.8L978.0,105.0L981.8,105.2L985.5,105.4L989.3,105.6L993.1,105.8L996.8,106.0L1000.6,106.3L1004.4,106.6L1008.1,106.9L1011.9,107.3L1015.6,107.7L1019.4,108.2L1023.1,108.7L1026.8,109.3L1030.5,110.0L1034.2,110.7L1037.9,111.5L1041.7,112.3L1045.4,113.2L1049.1,114.1" stroke="#808080" stroke-width="8.0"/>
<path d="M1049.1,114.1L1052.8,115.0L1056.5,116.0L1060.1,117.1L1063.8,118.2L1067.4,119.4L1071.0,120.7L1074.6,122.0L1078.2,123.5L1081.8,125.0L1085.2,126.5L1088.6,128.2" stroke="#808080" stroke-width="7.5"/>
<path d="M1088.6,128.2L1092.1,129.8L1095.5,131.5L1098.9,133.3L1102.3,135.1L1105.7,137.0L1109.1,138.9L1112.5,140.8L1115.8,142.9L1119.1,145.0" stroke="#808080" stroke-width="7.0"/>
<path d="M1119.1,145.0L1122.3,147.1L1125.6,149.3L1128.7,151.6L1131.9,153.9L1135.0,156.2L1138.4,159.0" stroke="#808080" stroke-width="6.5"/>
<path d="M1138.4,159.0L1141.8,161.8L1145.1,164.6L1148.4,167.6L1151.7,170.5L1154.9,173.6" stroke="#808080" stroke-width="6.0"/>
<path d="M1154.9,173.6L1158.1,176.7L1161.3,179.9L1164.4,183.0" stroke="#808080" stroke-width="5.5"/>
<path d="M1164.4,183.0L1167.5,186.3L1170.6,189.5L1173.7,192.8L1176.8,196.2L1179.9,199.5L1182.9,202.9L1186.0,206.2L1189.4,210.1L1192.8,214.0L1196.2,217.9L1199.6,221.9L1202.9,225.9L1206.3,230.0L1209.6,234.1L1212.9,238.2" stroke="#808080" stroke-width="6.0"/>
<path d="M1212.9,238.2L1216.1,242.3L1219.4,246.4L1222.7,250.6L1226.0,254.7L1229.2,258.9L1232.5,263.0L1235.7,267.1L1239.0,271.2L1242.3,275.4L1245.5,279.5L1248.8,283.6L1252.0,287.7L1255.2,291.8L1258.5,295.9L1261.7,300.1L1264.9,304.2L1268.1,308.4L1271.3,312.5L1274.5,316.7L1277.7,320.8L1280.9,325.0L1284.1,329.1L1287.3,333.3L1290.5,337.5L1293.7,341.8L1296.9,346.0L1300.2,350.3L1303.4,354.6L1306.6,358.9L1309.7,363.2L1312.9,367.5L1316.1,371.8L1319.3,376.1L1322.5,380.5L1325.7,384.8L1328.9,389.1L1332.1,393.4L1335.3,397.7L1338.5,402.0L1341.8,406.2L1345.0,410.6L1348.3,414.9L1351.6,419.2L1354.9,423.5L1358.2,427.8L1361.5,432.1L1364.9,436.4L1368.2,440.7L1371.5,445.0L1374.8,449.3L1378.2,453.6L1381.5,457.9L1384.8,462.1L1388.1,466.4L1391.4,470.7L1394.8,475.0L1398.0,479.2L1401.2,483.4L1404.5,487.6L1407.8,491.8L1411.0,495.9L1414.3,500.1L1417.5,504.3L1420.8,508.5L1424.0,512.7L1427.3,516.8L1430.5,521.0L1433.7,525.2L1436.9,529.5L1440.1,533.7L1443.3,538.0L1446.5,542.2L1449.8,546.7L1453.1,551.2L1456.4,555.8L1459.7,560.4L1463.1,565.0L1466.4,569.6L1469.7,574.2L1473.0,578.8L1476.2,583.5L1479.5,588.0L1482.7,592.6L1485.8,597.1L1489.0,601.6L1492.0,606.1L1495.0,610.4L1498.0,614.8L1500.5,618.5L1502.8,622.0" stroke="#808080" stroke-width="6.5"/>
<path d="M1502.8,622.0L1505.0,625.4L1507.0,628.8L1509.0,632.0L1510.9,635.2L1512.8,638.4L1514.7,641.6L1516.6,644.9L1518.5,648.1L1520.4,651.4L1522.3,654.6L1524.1,657.8L1525.9,661.0L1527.7,664.1L1529.5,667.3L1531.2,670.5L1532.9,673.7L1534.5,676.8L1536.1,680.0L1537.7,683.1L1539.2,686.3L1540.7,689.4L1542.2,692.5L1543.6,695.5" stroke="#808080" stroke-width="7.0"/>
<path d="M1543.6,695.5L1544.9,698.5L1546.2,701.4L1547.5,704.3L1548.9,707.5L1550.3,710.8L1551.8,714.2L1553.3,717.6L1554.8,721.0L1556.4,724.5L1558.0,728.0L1559.6,731.6L1561.1,735.2L1562.7,738.8L1564.2,742.5L1565.6,746.2L1567.0,750.0L1568.3,753.6L1569.5,757.2L1570.7,760.9L1571.9,764.7L1573.0,768.4L1574.2,772.2L1575.3,776.0L1576.4,779.8L1577.5,783.6L1578.5,787.4L1579.6,791.2L1580.6,794.9L1581.7,798.6L1582.7,802.3L1583.8,806.2L1584.8,810.1L1585.8,813.9" stroke="#808080" stroke-width="7.5"/>
<path d="M1585.8,813.9L1586.7,817.7L1587.7,821.5L1588.6,825.3L1589.5,829.1L1590.4,832.9L1591.3,836.6L1592.3,840.4L1593.2,844.1L1594.1,847.8" stroke="#808080" stroke-width="8.0"/>
<path d="M1594.1,847.8L1595.1,851.4L1596.0,855.0L1596.9,858.6L1597.9,862.1L1598.8,865.7L1599.7,869.3L1600.6,872.8L1601.6,876.4L1602.5,880.0" stroke="#808080" stroke-width="7.5"/>
<path d="M1609.0,880.0L1609.3,876.3L1609.5,872.5L1609.8,868.8L1610.1,865.1L1610.4,861.4L1610.6,857.6L1610.9,853.8L1611.2,850.0L1611.5,846.3L1611.7,842.7L1612.0,839.0L1612.3,835.3L1612.6,831.5L1612.8,827.8L1613.1,824.0L1613.4,820.3L1613.8,816.5L1614.1,812.7L1614.5,808.9L1614.8,805.0L1615.2,801.2L1615.7,797.3L1616.1,793.4L1616.5,789.5L1616.9,785.6L1617.4,781.7L1617.8,777.8L1618.2,773.9L1618.6,770.0L1619.0,766.3L1619.4,762.6L1619.7,758.9L1620.1,755.2L1620.5,751.5L1620.9,747.7L1621.2,744.0L1621.6,740.3L1621.9,736.6L1622.3,732.9L1622.7,729.2L1623.0,725.5L1623.4,721.7L1623.7,717.8L1624.0,714.0L1624.4,710.2L1624.7,706.4L1625.0,702.6L1625.3,698.8L1625.7,695.0L1626.0,691.2L1626.3,687.4L1626.6,683.6L1626.9,679.8L1627.2,676.0L1627.5,672.2L1627.8,668.4L1628.0,664.6L1628.3,660.8L1628.6,657.0L1628.9,653.2L1629.2,649.4L1629.5,645.6L1629.8,641.8L1630.1,637.9L1630.5,634.0L1630.9,630.1L1631.2,626.3L1631.6,622.4L1632.0,618.5L1632.4,614.6L1632.7,610.7L1633.1,606.8L1633.5,602.9L1633.8,599.0L1634.1,595.1L1634.5,591.1L1634.8,587.1L1635.1,583.2L1635.4,579.2L1635.7,575.3L1636.0,571.3L1636.3,567.3L1636.6,563.4L1636.9,559.4L1637.2,555.5L1637.5,551.7L1637.8,547.9L1638.1,544.0L1638.3,540.2L1638.6,536.4L1638.9,532.6L1639.2,528.8L1639.5,525.0L1639.8,521.2L1640.1,517.4L1640.4,513.6L1640.7,509.8L1641.1,506.0L1641.5,502.2L1641.9,498.4L1642.3,494.6L1642.7,490.8L1643.0,487.0L1643.4,483.2L1643.8,479.4L1644.2,475.6L1644.5,471.8L1644.8,467.9L1645.1,464.0L1645.4,460.2L1645.7,456.3L1646.0,452.4L1646.3,448.5L1646.6,444.6L1646.9,440.7L1647.1,436.8L1647.4,432.9L1647.7,429.0L1648.0,425.0L1648.3,421.1L1648.5,417.1L1648.8,413.0L1649.1,409.0L1649.3,405.0L1649.6,401.1L1649.9,397.1L1650.2,393.2L1650.5,389.3L1650.8,385.5L1651.2,381.7L1651.5,378.1L1651.9,374.5L1652.3,371.0L1652.7,367.5L1653.2,363.9L1653.6,360.1L1654.0,356.2L1654.4,352.5L1654.7,348.7L1655.1,344.8L1655.5,340.9L1655.8,337.0L1656.2,333.0L1656.6,329.0L1656.9,325.0L1657.3,321.1L1657.7,317.1L1658.1,313.2L1658.4,309.3L1658.8,305.5L1659.2,301.8L1659.6,298.0L1660.0,294.3L1660.4,290.7L1660.8,287.2L1661.2,283.8L1661.6,280.3L1662.1,276.9L1662.5,273.5L1663.0,270.0L1663.5,266.4L1664.0,262.8L1664.5,259.3L1665.1,255.7L1665.6,252.2L1666.2,248.7L1666.8,245.3L1667.5,242.0L1668.3,238.1L1669.2,233.8L1670.1,229.9" stroke="#808080" stroke-width="8.0"/>
<path d="M1670.1,229.9L1671.1,227.1" stroke="#808080" stroke-width="7.5"/>
<path d="M1671.1,227.1L1672.0,226.0" stroke="#808080" stroke-width="6.0"/>
<path d="M1672.0,226.0L1672.9,227.1" stroke="#808080" stroke-width="6.5"/>
<path d="M1672.9,227.1L1673.7,229.9" stroke="#808080" stroke-width="7.5"/>
<path stroke-linecap="butt" d="M1673.7,229.9L1674.6,233.8L1675.3,238.1L1676.0,242.0L1676.5,245.3L1677.0,248.7L1677.5,252.2L1677.9,255.7L1678.4,259.3L1678.7,262.9L1679.1,266.4L1679.5,270.0L1679.9,273.9L1680.3,277.8L1680.6,281.7L1680.9,285.7L1681.2,289.6L1681.6,293.6L1681.9,297.7L1682.2,301.8L1682.5,305.4L1682.8,309.0L1683.1,312.5L1683.3,316.0L1683.6,319.6L1683.9,323.2L1684.2,326.9L1684.5,330.8L1684.7,334.8L1685.0,339.1L1685.3,343.6L1685.7,351.1L1686.2,358.8L1686.6,366.7L1687.1,374.8L1687.5,382.9L1688.0,391.1L1688.4,399.4L1688.8,407.7L1689.3,416.0L1689.7,424.3L1690.2,432.5L1690.6,440.6L1691.1,448.7L1691.6,456.6L1692.0,464.3L1692.5,471.8L1692.8,476.3L1693.1,480.6L1693.5,484.6L1693.9,488.4L1694.2,492.1L1694.6,495.7L1694.9,499.2L1695.3,502.7L1695.6,506.3L1695.9,509.9L1696.2,513.6L1696.4,517.4L1696.7,521.2L1696.9,525.0L1697.1,528.8L1697.2,532.5L1697.4,536.3L1697.6,540.1L1697.7,543.9L1697.9,547.8L1698.1,551.6L1698.3,555.5L1698.5,559.2L1698.7,562.9L1699.0,566.6L1699.2,570.3L1699.4,574.1L1699.7,577.8L1699.9,581.6L1700.1,585.3L1700.4,589.1L1700.6,592.9L1700.8,596.8L1701.0,600.6L1701.2,604.5L1701.4,608.3L1701.5,612.2L1701.7,616.1L1701.8,620.0L1701.9,624.0L1702.0,628.0L1702.2,631.9L1702.3,635.9L1702.4,639.9L1702.5,643.9L1702.6,647.8L1702.8,651.7L1702.9,655.6L1703.1,659.5L1703.3,663.3L1703.5,667.0L1703.8,671.0L1704.1,674.9L1704.4,678.6L1704.8,682.3L1705.2,686.0L1705.6,689.6L1706.0,693.2L1706.3,696.9L1706.7,700.7L1707.1,704.5L1707.4,708.2L1707.8,711.8L1708.1,715.4L1708.4,719.1L1708.8,722.8L1709.1,726.4L1709.4,730.2L1709.8,733.9L1710.1,737.7L1710.4,741.6L1710.8,745.5L1711.1,749.5L1711.4,753.6L1711.8,758.8L1712.2,764.0L1712.6,769.2L1712.9,774.6L1713.3,780.0L1713.7,785.4L1714.1,790.8L1714.4,796.3L1714.8,801.8L1715.2,807.3L1715.6,812.7L1716.0,818.2L1716.3,823.7L1716.7,829.2L1717.1,834.6L1717.5,840.0L1717.9,845.2L1718.3,850.5L1718.7,855.7L1719.1,860.9L1719.5,866.2L1719.9,871.4L1720.4,876.6L1720.8,881.8L1721.2,887.1L1721.6,892.3L1722.0,897.5L1722.4,902.7L1722.8,907.9L1723.2,913.1L1723.5,918.4L1723.9,923.6L1724.2,928.8L1724.6,934.1L1724.9,939.3L1725.2,944.5L1725.5,949.7L1725.7,955.0L1726.0,960.2L1726.3,965.4L1726.6,970.6L1726.8,975.9L1727.1,981.1L1727.4,986.3L1727.7,991.6L1728.0,996.8L1728.3,1002.1L1728.6,1007.3L1728.9,1012.7L1729.3,1018.1L1729.7,1023.5L1730.0,1028.8L1730.4,1034.2L1730.8,1039.6L1731.2,1045.0L1731.6,1050.4L1732.0,1055.9L1732.3,1061.3L1732.7,1066.7L1733.1,1072.1L1733.4,1077.4L1733.8,1082.8L1734.1,1088.2L1734.4,1093.6L1734.7,1098.9L1735.0,1104.1L1735.2,1109.4L1735.5,1114.7L1735.7,1120.0L1735.9,1125.3L1736.1,1130.6L1736.4,1135.9L1736.6,1141.1L1736.8,1146.4L1737.0,1151.6L1737.2,1156.8L1737.4,1162.0L1737.6,1167.1L1737.8,1172.2L1738.0,1177.3L1738.2,1181.5L1738.4,1185.6L1738.5,1189.7L1738.7,1193.9L1738.9,1197.9L1739.0,1202.0L1739.2,1206.0L1739.4,1210.0L1739.5,1214.0L1739.7,1217.9L1739.9,1221.8L1740.0,1225.7L1740.2,1229.5L1740.3,1233.3L1740.5,1237.0L1740.7,1241.0L1740.8,1244.7L1741.0,1248.3L1741.1,1251.7L1741.2,1255.1L1741.4,1258.5L1741.5,1262.0" stroke="#808080" stroke-width="8.0"/>
</g>
<g>
<rect x="344.1" y="1242.3" width="19.8" height="19.8" fill="#808080"/>
<rect x="396.1" y="1082.8" width="19.8" height="19.8" fill="#808080"/>
<rect x="448.1" y="929.9" width="19.8" height="19.8" fill="#808080"/>
<rect x="500.1" y="781.6" width="19.8" height="19.8" fill="#808080"/>
<rect x="552.1" y="630.2" width="19.8" height="19.8" fill="#808080"/>
<rect x="604.1" y="480.5" width="19.8" height="19.8" fill="#808080"/>
<rect x="656.1" y="329.5" width="19.8" height="19.8" fill="#808080"/>
<rect x="708.1" y="190.2" width="19.8" height="19.8" fill="#808080"/>
<rect x="760.1" y="116.6" width="19.8" height="19.8" fill="#808080"/>
<rect x="812.1" y="97.6" width="19.8" height="19.8" fill="#808080"/>
<rect x="864.1" y="95.1" width="19.8" height="19.8" fill="#808080"/>
<rect x="916.1" y="94.6" width="19.8" height="19.8" fill="#808080"/>
<rect x="968.1" y="95.1" width="19.8" height="19.8" fill="#808080"/>
<rect x="1020.1" y="100.0" width="19.8" height="19.8" fill="#808080"/>
<rect x="1072.1" y="115.2" width="19.8" height="19.8" fill="#808080"/>
<rect x="1124.1" y="145.6" width="19.8" height="19.8" fill="#808080"/>
<rect x="1176.1" y="196.3" width="19.8" height="19.8" fill="#808080"/>
<rect x="1228.1" y="260.1" width="19.8" height="19.8" fill="#808080"/>
<rect x="1280.1" y="326.9" width="19.8" height="19.8" fill="#808080"/>
<rect x="1332.1" y="396.7" width="19.8" height="19.8" fill="#808080"/>
<rect x="1384.1" y="464.1" width="19.8" height="19.8" fill="#808080"/>
<rect x="1436.1" y="531.7" width="19.8" height="19.8" fill="#808080"/>
<rect x="1488.1" y="604.9" width="19.8" height="19.8" fill="#808080"/>
<rect x="1540.4" y="700.9" width="19.8" height="19.8" fill="#808080"/>
<rect x="1592.4" y="865.6" width="19.8" height="19.8" fill="#808080"/>
<rect x="1644.1" y="346.3" width="19.8" height="19.8" fill="#808080"/>
<rect x="1693.1" y="657.1" width="19.8" height="19.8" fill="#808080"/>
</g>
<g>
<path d="M357.2,1256.0L358.3,1252.4L359.4,1248.8L360.4,1245.2L361.5,1241.6L362.6,1238.0L363.6,1234.7L364.6,1231.4L365.5,1228.2L366.5,1224.8L367.6,1221.3L368.7,1217.6L369.7,1214.2L370.7,1210.7L371.8,1207.2L372.8,1203.7L373.8,1200.1L374.9,1196.5L376.0,1192.8L377.1,1189.1L378.2,1185.4L379.3,1181.6L380.6,1177.7L381.8,1173.8L383.3,1169.3L384.7,1164.8L386.2,1160.3L387.7,1155.8L389.2,1151.3L390.7,1146.7L392.3,1142.1L393.8,1137.5L395.4,1132.8L397.0,1128.1L398.7,1123.3L400.3,1118.4L402.0,1113.5L403.7,1108.4L405.4,1103.3L407.2,1098.0L410.3,1088.9L413.3,1079.7L416.5,1070.3L419.6,1060.9L422.8,1051.3L426.0,1041.7L429.3,1032.0L432.5,1022.3L435.8,1012.5L439.1,1002.8L442.4,993.0L445.7,983.2L449.0,973.4L452.3,963.7L455.5,954.1L458.8,944.5L462.0,935.2L465.2,925.9L468.4,916.6L471.6,907.3L474.8,898.0L478.1,888.8L481.3,879.5L484.5,870.2L487.7,861.0L491.0,851.7L494.2,842.5L497.4,833.2L500.6,823.9L503.8,814.6L507.0,805.3L510.2,796.0L513.4,786.5L516.7,777.0L519.9,767.5L523.1,758.0L526.3,748.5L529.5,739.0L532.7,729.4L535.9,719.9L539.1,710.4L542.2,700.8L545.4,691.3L548.6,681.7L551.8,672.2L555.0,662.6L558.1,653.1L561.3,643.5L564.5,633.8L567.7,624.0L571.0,614.3L574.2,604.5L577.4,594.8L580.6,585.1L583.8,575.3L587.0,565.5L590.2,555.8L593.4,546.0L596.6,536.2L599.8,526.4L603.0,516.6L606.2,506.7L609.3,496.9L612.5,487.0L615.8,476.5L619.2,466.0L622.5,455.4L625.8,444.7L629.2,433.9L632.5,423.2L635.9,412.4L639.2,401.7L642.5,391.0L645.8,380.3L649.0,369.8L652.3,359.3L655.4,349.0L658.6,338.8L661.7,328.8L664.8,319.0L666.1,314.6L667.4,310.4L668.6,306.4L669.8,302.5L670.9,298.8L672.0,295.2L673.1,291.6L674.1,288.2L675.2,284.7L676.2,281.3L677.3,277.9L678.4,274.4L679.6,270.9L680.8,267.3L682.0,263.6L683.4,259.5L684.9,255.3L686.3,251.1L687.8,246.9L689.3,242.6L690.9,238.4L692.4,234.1L694.0,229.9L695.5,225.6L697.1,221.4L698.7,217.2L700.2,213.1L701.8,209.0L703.3,204.9L704.8,201.0L706.3,197.1L707.8,193.4L709.2,189.9L710.5,186.7L711.9,183.5L713.3,180.5L714.7,177.4" stroke="#ff00ff" stroke-width="7.5"/>
<path d="M714.7,177.4L716.1,174.4L717.6,171.2L719.1,168.0L720.6,164.8L722.2,161.6L723.7,158.3L725.3,155.1L727.0,151.9L728.6,148.8L730.4,145.7L732.2,142.7L734.1,139.6L736.1,136.6" stroke="#ff00ff" stroke-width="7.0"/>
<path d="M736.1,136.6L738.1,133.5L740.1,130.5L742.3,127.6" stroke="#ff00ff" stroke-width="6.5"/>
<path d="M742.3,127.6L744.6,124.9L746.9,122.4L749.4,120.1" stroke="#ff00ff" stroke-width="6.0"/>
<path d="M749.4,120.1L752.3,117.9" stroke="#ff00ff" stroke-width="6.5"/>
<path d="M752.3,117.9L755.5,116.0L758.9,114.4" stroke="#ff00ff" stroke-width="7.0"/>
<path d="M758.9,114.4L762.3,113.0L765.9,111.9" stroke="#ff00ff" stroke-width="7.5"/>
<path d="M765.9,111.9L769.5,111.0L773.0,110.4L776.6,110.0L780.2,109.8L783.9,109.7L787.6,109.7L791.3,109.8L795.0,109.8L798.7,109.8L802.4,109.9L806.0,110.0L809.7,110.2L813.5,110.4L817.4,110.6L821.5,110.8L825.0,111.0L828.7,111.2L832.3,111.4L836.0,111.6L839.7,111.8L843.5,112.1L847.3,112.3L851.1,112.5L854.9,112.7L858.7,113.0L862.5,113.2L866.3,113.4L870.1,113.7L873.8,113.9L877.5,114.1L881.3,114.3L885.0,114.5L888.7,114.7L892.5,114.9L896.2,115.1L899.9,115.2L903.7,115.4L907.4,115.7L911.1,115.9L914.8,116.1L918.6,116.4L922.3,116.7L926.0,117.0L930.0,117.4L933.9,117.7L937.9,118.1L941.8,118.4L945.8,118.8L949.7,119.2L953.7,119.7L957.6,120.2L961.6,120.7L965.5,121.2L969.4,121.9L973.4,122.5L977.3,123.3L981.1,124.1L985.0,124.8L988.9,125.6L992.7,126.4L996.6,127.3L1000.5,128.2L1004.3,129.1" stroke="#ff00ff" stroke-width="8.0"/>
<path d="M1004.3,129.1L1008.1,130.1L1012.0,131.2L1015.8,132.4L1019.5,133.6L1023.2,135.0L1026.9,136.4L1030.5,138.0" stroke="#ff00ff" stroke-width="7.5"/>
<path d="M1030.5,138.0L1033.9,139.6L1037.2,141.3L1040.6,143.0L1043.9,144.9L1047.2,146.8L1050.4,148.7L1053.7,150.8" stroke="#ff00ff" stroke-width="7.0"/>
<path d="M1053.7,150.8L1056.9,152.8L1060.1,155.0L1063.2,157.2L1066.4,159.4L1069.5,161.7L1072.6,164.0L1075.7,166.4L1078.7,168.8" stroke="#ff00ff" stroke-width="6.5"/>
<path d="M1078.7,168.8L1081.8,171.2L1085.1,174.0L1088.5,176.9L1091.8,179.8L1095.1,182.7L1098.3,185.8L1101.6,188.8L1104.8,191.9" stroke="#ff00ff" stroke-width="6.0"/>
<path d="M1104.8,191.9L1108.0,195.0L1111.2,198.2L1114.3,201.4L1117.5,204.7" stroke="#ff00ff" stroke-width="5.5"/>
<path d="M1117.5,204.7L1120.6,207.9L1123.7,211.2L1126.8,214.6L1129.9,217.9L1133.0,221.2L1136.4,225.0L1139.8,228.8L1143.2,232.7L1146.6,236.6L1150.0,240.5L1153.3,244.5L1156.6,248.4L1159.9,252.5L1163.2,256.5L1166.5,260.5L1169.8,264.6L1173.0,268.7" stroke="#ff00ff" stroke-width="6.0"/>
<path d="M1173.0,268.7L1176.3,272.7L1179.5,276.8L1182.8,280.9L1186.0,285.0L1189.3,289.2L1192.6,293.4L1195.8,297.7L1199.0,302.0L1202.3,306.3L1205.5,310.6L1208.7,314.9L1211.8,319.3L1215.0,323.6L1218.2,327.9L1221.4,332.3L1224.6,336.6L1227.8,340.9L1231.0,345.2L1234.2,349.5L1237.5,353.8L1240.7,357.9L1244.0,362.1L1247.2,366.3L1250.4,370.4L1253.7,374.6L1257.0,378.7L1260.2,382.9L1263.5,387.0L1266.8,391.2L1270.0,395.3L1273.3,399.4L1276.6,403.5L1279.9,407.6L1283.2,411.8L1286.5,415.9L1289.8,420.0" stroke="#ff00ff" stroke-width="6.5"/>
<path d="M1289.8,420.0L1293.0,424.1L1296.3,428.2L1299.6,432.2L1302.9,436.3L1306.2,440.3L1309.5,444.4L1312.7,448.4L1316.0,452.5L1319.3,456.5L1322.6,460.6L1325.9,464.6L1329.2,468.7L1332.5,472.7L1335.7,476.8" stroke="#ff00ff" stroke-width="6.0"/>
<path d="M1335.7,476.8L1339.0,480.9L1342.2,485.0L1345.5,489.2L1348.8,493.3L1352.0,497.5L1355.2,501.8L1358.5,506.0L1361.7,510.2L1364.9,514.4L1368.1,518.7L1371.3,522.9L1374.5,527.1L1377.8,531.3L1381.0,535.5L1384.2,539.7L1387.5,543.9L1390.7,548.1L1394.0,552.2L1397.2,556.3" stroke="#ff00ff" stroke-width="6.5"/>
<path d="M1397.2,556.3L1400.4,560.3L1403.7,564.3L1406.9,568.3L1410.1,572.3L1413.4,576.3L1416.6,580.3L1419.9,584.3L1423.1,588.2L1426.4,592.2L1429.7,596.2L1432.9,600.1L1436.2,604.1L1439.5,608.1L1442.7,612.0L1446.0,616.0L1449.3,620.0L1452.6,624.0L1455.9,628.1L1459.3,632.1L1462.7,636.2L1466.0,640.2L1469.4,644.3L1472.7,648.4L1476.1,652.4L1479.4,656.4L1482.7,660.4L1485.9,664.3L1489.2,668.3L1492.3,672.1L1495.4,676.0L1498.5,679.8" stroke="#ff00ff" stroke-width="6.0"/>
<path d="M1498.5,679.8L1501.2,683.2L1503.8,686.4L1506.2,689.6L1508.5,692.6L1510.7,695.6L1512.9,698.6L1515.2,701.6L1517.5,704.6L1520.0,707.7L1522.3,710.6L1524.7,713.6L1527.1,716.7L1529.6,719.7" stroke="#ff00ff" stroke-width="6.5"/>
<path d="M1529.6,719.7L1532.0,722.8L1534.5,725.8L1537.0,728.9L1539.4,731.9L1541.9,734.8L1544.4,737.7L1546.9,740.5L1549.3,743.2L1552.2,746.3L1555.2,749.1L1558.1,751.7L1561.1,754.2L1564.0,756.5" stroke="#ff00ff" stroke-width="6.0"/>
<path d="M1564.0,756.5L1567.0,758.9L1570.0,761.2L1572.9,763.3L1575.9,765.3" stroke="#ff00ff" stroke-width="6.5"/>
<path d="M1575.9,765.3L1578.9,767.2L1582.0,769.0L1585.5,771.0L1589.0,772.8" stroke="#ff00ff" stroke-width="7.0"/>
<path d="M1589.0,772.8L1592.5,774.4L1596.0,775.5" stroke="#ff00ff" stroke-width="7.5"/>
<path d="M1596.0,775.5L1598.8,775.9L1601.5,775.5" stroke="#ff00ff" stroke-width="8.0"/>
<path d="M1601.5,775.5L1604.0,774.5" stroke="#ff00ff" stroke-width="7.5"/>
<path d="M1604.0,774.5L1606.7,772.8" stroke="#ff00ff" stroke-width="6.5"/>
<path d="M1606.7,772.8L1609.3,770.6" stroke="#ff00ff" stroke-width="6.0"/>
<path d="M1609.3,770.6L1611.8,768.2" stroke="#ff00ff" stroke-width="5.5"/>
<path d="M1611.8,768.2L1614.1,765.5" stroke="#ff00ff" stroke-width="6.0"/>
<path d="M1614.1,765.5L1616.2,762.7L1618.2,759.7" stroke="#ff00ff" stroke-width="6.5"/>
<path d="M1618.2,759.7L1620.1,756.6L1621.8,753.4L1623.5,750.0" stroke="#ff00ff" stroke-width="7.0"/>
<path d="M1623.5,750.0L1625.0,746.7L1626.5,743.4L1628.0,740.0L1629.4,736.6L1630.7,733.0L1631.8,729.3L1632.9,725.5" stroke="#ff00ff" stroke-width="7.5"/>
<path d="M1632.9,725.5L1633.8,721.9L1634.6,718.2L1635.3,714.5L1636.0,710.7L1636.6,706.8L1637.2,703.0L1637.8,699.1L1638.4,695.2L1639.0,691.3L1639.6,687.4L1640.2,683.6L1640.8,679.8L1641.4,676.0L1642.0,672.2L1642.6,668.4L1643.2,664.6L1643.8,660.8L1644.4,657.0L1644.9,653.2L1645.5,649.4L1646.0,645.6L1646.5,641.8L1647.0,638.0L1647.5,634.2L1647.9,630.3L1648.3,626.4L1648.8,622.6L1649.2,618.7L1649.6,614.9L1650.0,611.1L1650.4,607.3L1650.8,603.6L1651.3,600.0L1651.8,596.2L1652.4,592.6L1652.9,589.1L1653.5,585.6L1654.0,582.2L1654.5,578.7L1655.0,575.3L1655.4,571.4L1655.8,567.6L1656.1,563.7L1656.5,559.8L1656.8,555.5L1657.1,551.9L1657.4,548.2L1657.7,544.4L1658.0,540.6L1658.3,536.8L1658.6,532.9L1658.9,529.0L1659.2,525.2L1659.5,521.3L1659.9,517.4L1660.2,513.6L1660.6,509.8L1660.9,506.0L1661.3,502.2L1661.7,498.4L1662.2,494.6L1662.6,490.8L1663.0,487.0L1663.4,483.2L1663.7,479.4L1664.1,475.6L1664.4,471.8L1664.7,467.9L1664.9,464.0L1665.1,460.0L1665.3,456.1L1665.5,452.1L1665.7,448.2L1665.9,444.3L1666.1,440.3L1666.3,436.4L1666.5,432.4L1666.8,428.5L1667.1,424.6L1667.4,420.6L1667.7,416.6L1668.1,412.7L1668.4,408.7L1668.8,404.7L1669.1,400.8L1669.5,396.9L1669.9,393.0L1670.3,389.2L1670.7,385.5L1671.1,381.7L1671.6,378.1L1672.0,374.5L1672.5,371.1L1673.0,367.7L1673.6,364.3L1674.3,361.0L1675.3,356.4L1676.5,351.6" stroke="#ff00ff" stroke-width="8.0"/>
<path d="M1676.5,351.6L1677.8,347.8" stroke="#ff00ff" stroke-width="7.5"/>
<path d="M1677.8,347.8L1679.0,346.3L1680.3,347.8" stroke="#ff00ff" stroke-width="6.0"/>
<path d="M1680.3,347.8L1681.6,351.6L1682.8,356.4" stroke="#ff00ff" stroke-width="7.5"/>
<path d="M1682.8,356.4L1683.8,361.0L1684.4,364.3L1684.8,367.7L1685.2,371.1L1685.5,374.5L1685.8,378.1L1686.2,381.8L1686.6,385.5L1687.0,389.1L1687.5,392.8L1688.0,396.6L1688.5,400.4L1688.9,404.2L1689.4,408.0L1689.9,411.9L1690.4,415.7L1690.8,419.6L1691.2,423.5L1691.6,427.3L1691.9,431.0L1692.2,434.7L1692.5,438.4L1692.7,442.1L1693.0,445.8L1693.2,449.5L1693.4,453.3L1693.6,457.0L1693.9,460.7L1694.1,464.4L1694.4,468.1L1694.7,471.8L1695.0,475.6L1695.4,479.4L1695.8,483.3L1696.1,487.1L1696.5,490.8L1696.9,494.6L1697.3,498.4L1697.7,502.2L1698.1,506.0L1698.5,509.8L1698.9,513.6L1699.3,517.4L1699.7,521.2L1700.1,525.1L1700.5,528.9L1700.9,532.7L1701.3,536.6L1701.7,540.4L1702.1,544.2L1702.4,548.0L1702.8,551.8L1703.1,555.5L1703.4,559.4L1703.6,563.2L1703.8,567.0L1703.9,570.7L1704.1,574.5L1704.3,578.3L1704.5,582.1L1704.8,586.0L1705.2,590.0L1705.6,593.6L1706.1,597.2L1706.6,600.9L1707.2,604.6L1707.7,608.3L1708.3,612.0L1708.9,615.8L1709.6,619.6L1710.2,623.3L1710.8,627.1L1711.4,630.8L1711.9,634.5L1712.5,638.2L1713.0,641.8L1713.5,645.7L1714.0,649.4L1714.5,653.2L1714.9,656.9L1715.4,660.6L1715.8,664.3L1716.2,668.0L1716.6,671.8L1717.1,675.6L1717.5,679.6L1718.0,683.6L1718.5,687.8L1719.0,692.0L1719.4,696.3L1719.9,700.5L1720.4,704.9L1720.8,709.2L1721.3,713.6L1721.8,718.0L1722.3,722.4L1722.8,726.8L1723.3,731.3L1723.8,735.7L1724.3,740.2L1724.8,744.7L1725.4,749.1L1726.0,753.6L1726.7,758.7L1727.4,763.9L1728.1,769.1L1728.8,774.3L1729.6,779.5L1730.3,784.7L1731.1,790.0L1731.9,795.2L1732.7,800.5L1733.5,805.8L1734.3,811.0L1735.1,816.3L1735.9,821.5L1736.8,826.8L1737.6,832.1L1738.5,837.3L1739.4,842.7L1740.3,848.2L1741.3,853.6L1742.3,859.2L1743.3,864.7L1744.3,870.2L1745.3,875.7L1746.4,881.2L1747.4,886.7L1748.4,892.2L1749.4,897.6L1750.4,902.9L1751.4,908.2L1752.4,913.4L1753.3,918.6L1754.2,923.6L1754.9,927.7L1755.4,931.2L1755.9,934.3L1756.3,937.3L1756.8,940.6L1757.4,944.5L1758.0,948.2L1758.6,951.9L1759.3,955.6L1759.9,959.4L1760.6,963.2L1761.2,967.1L1761.9,971.0L1762.6,974.9L1763.3,978.9L1764.0,982.9L1764.6,986.9L1765.3,991.0L1765.9,995.0L1766.6,999.1L1767.2,1003.2L1767.8,1007.3L1768.5,1012.5L1769.3,1017.8L1770.0,1023.1L1770.8,1028.5L1771.5,1033.8L1772.2,1039.2L1772.9,1044.7L1773.6,1050.1L1774.3,1055.5L1775.0,1061.0L1775.6,1066.5L1776.3,1071.9L1776.9,1077.4L1777.6,1082.8L1778.2,1088.2L1778.8,1093.6L1779.4,1098.9L1779.9,1104.1L1780.5,1109.4L1781.0,1114.7L1781.5,1120.0L1782.0,1125.3L1782.5,1130.6L1783.0,1135.8L1783.5,1141.1L1783.9,1146.4L1784.4,1151.6L1784.8,1156.8L1785.3,1162.0L1785.7,1167.1L1786.2,1172.2L1786.6,1177.3L1786.9,1181.5L1787.3,1185.6L1787.6,1189.7L1787.9,1193.9L1788.2,1197.9L1788.5,1202.0L1788.8,1206.0L1789.1,1210.0L1789.4,1214.0L1789.7,1217.9L1789.9,1221.8L1790.2,1225.7L1790.5,1229.5L1790.7,1233.3L1791.0,1237.0L1791.3,1241.3L1791.6,1245.3L1791.8,1249.0L1792.0,1252.6L1792.3,1256.3L1792.5,1260.0" stroke="#ff00ff" stroke-width="8.0"/>
<path d="M1792.5,1260.0L1793.2,1275.0L1793.8,1290.0L1794.5,1305.0L1795.1,1320.0L1795.8,1335.0L1796.4,1350.0L1797.1,1365.0L1797.8,1380.0L1798.4,1395.0L1799.1,1410.0L1799.7,1425.0L1800.4,1440.0L1801.0,1455.0L1801.7,1470.0L1802.3,1485.0L1803.0,1500.0" stroke="#ff00ff" stroke-width="8.0"/>
<path stroke-linecap="butt" d="M1803.0,1500.0L1803.7,1484.9L1804.3,1469.8L1805.0,1454.6L1805.6,1439.3L1806.3,1423.9L1807.0,1408.6L1807.6,1393.3L1808.3,1378.0L1808.9,1362.8L1809.6,1347.7L1810.3,1332.7L1810.9,1317.8L1811.6,1303.1L1812.2,1288.5L1812.9,1274.1L1813.5,1260.0L1813.8,1254.4L1814.0,1250.3L1814.3,1247.1L1814.5,1244.1L1814.8,1241.0L1815.0,1237.0L1815.2,1233.3L1815.4,1229.5L1815.6,1225.7L1815.8,1221.8L1816.0,1217.9L1816.2,1214.0L1816.4,1210.0L1816.6,1206.0L1816.8,1202.0L1817.0,1197.9L1817.2,1193.9L1817.4,1189.8L1817.6,1185.6L1817.8,1181.5L1818.0,1177.3L1818.2,1172.2L1818.5,1167.1L1818.7,1162.0L1818.9,1156.8L1819.2,1151.6L1819.4,1146.4L1819.6,1141.1L1819.9,1135.8L1820.1,1130.6L1820.4,1125.3L1820.6,1120.0L1820.9,1114.7L1821.2,1109.4L1821.5,1104.1L1821.8,1098.9L1822.2,1093.6L1822.6,1088.3L1823.0,1082.9L1823.5,1077.6L1823.9,1072.2L1824.4,1066.9L1825.0,1061.5L1825.5,1056.2L1826.0,1050.8L1826.5,1045.5L1827.1,1040.1L1827.6,1034.7L1828.1,1029.4L1828.6,1024.0L1829.1,1018.7L1829.6,1013.3L1830.0,1008.0L1830.4,1002.7L1830.8,997.4L1831.2,992.1L1831.6,986.8L1832.0,981.5L1832.4,976.2L1832.8,970.9L1833.2,965.6L1833.5,960.3L1833.9,955.1L1834.2,949.8L1834.5,944.5L1834.9,939.3L1835.2,934.0L1835.5,928.8L1835.8,923.6L1836.1,918.9L1836.3,914.2L1836.6,909.6L1836.8,904.9L1837.0,900.3L1837.2,895.6L1837.4,891.0L1837.6,886.4L1837.8,881.8L1838.0,877.2L1838.2,872.6L1838.4,868.0L1838.5,863.5L1838.7,859.0L1838.9,854.5L1839.0,850.0L1839.1,846.1L1839.2,842.2L1839.3,838.4L1839.4,834.6L1839.5,830.8L1839.5,827.1L1839.6,823.3L1839.6,819.6L1839.7,815.8L1839.7,812.1L1839.8,808.4L1839.8,804.7L1839.9,800.9L1839.9,797.2L1840.0,793.4" stroke="#ff00ff" stroke-width="8.0"/>
</g>
<g>
<circle cx="406.0" cy="1101.6" r="9.5" fill="#fff2ff" stroke="#ffb8ff" stroke-width="1.6"/>
<circle cx="458.0" cy="946.8" r="9.5" fill="#fff2ff" stroke="#ffb8ff" stroke-width="1.6"/>
<circle cx="510.0" cy="796.6" r="9.5" fill="#fff2ff" stroke="#ffb8ff" stroke-width="1.6"/>
<circle cx="562.0" cy="641.4" r="9.5" fill="#fff2ff" stroke="#ffb8ff" stroke-width="1.6"/>
<circle cx="614.0" cy="482.3" r="9.5" fill="#fff2ff" stroke="#ffb8ff" stroke-width="1.6"/>
<circle cx="666.0" cy="315.0" r="9.5" fill="#fff2ff" stroke="#ffb8ff" stroke-width="1.6"/>
<circle cx="718.0" cy="170.4" r="9.5" fill="#fff2ff" stroke="#ffb8ff" stroke-width="1.6"/>
<circle cx="770.0" cy="110.9" r="9.5" fill="#fff2ff" stroke="#ffb8ff" stroke-width="1.6"/>
<circle cx="822.0" cy="110.8" r="9.5" fill="#fff2ff" stroke="#ffb8ff" stroke-width="1.6"/>
<circle cx="874.0" cy="113.9" r="9.5" fill="#fff2ff" stroke="#ffb8ff" stroke-width="1.6"/>
<circle cx="926.0" cy="117.0" r="9.5" fill="#fff2ff" stroke="#ffb8ff" stroke-width="1.6"/>
<circle cx="978.0" cy="123.4" r="9.5" fill="#fff2ff" stroke="#ffb8ff" stroke-width="1.6"/>
<circle cx="1030.0" cy="137.8" r="9.5" fill="#fff2ff" stroke="#ffb8ff" stroke-width="1.6"/>
<circle cx="1082.0" cy="171.5" r="9.5" fill="#fff2ff" stroke="#ffb8ff" stroke-width="1.6"/>
<circle cx="1134.0" cy="222.3" r="9.5" fill="#fff2ff" stroke="#ffb8ff" stroke-width="1.6"/>
<circle cx="1186.0" cy="285.0" r="9.5" fill="#fff2ff" stroke="#ffb8ff" stroke-width="1.6"/>
<circle cx="1238.0" cy="354.4" r="9.5" fill="#fff2ff" stroke="#ffb8ff" stroke-width="1.6"/>
<circle cx="1290.0" cy="420.3" r="9.5" fill="#fff2ff" stroke="#ffb8ff" stroke-width="1.6"/>
<circle cx="1342.0" cy="484.7" r="9.5" fill="#fff2ff" stroke="#ffb8ff" stroke-width="1.6"/>
<circle cx="1394.0" cy="552.2" r="9.5" fill="#fff2ff" stroke="#ffb8ff" stroke-width="1.6"/>
<circle cx="1446.0" cy="616.0" r="9.5" fill="#fff2ff" stroke="#ffb8ff" stroke-width="1.6"/>
<circle cx="1498.0" cy="679.1" r="9.5" fill="#fff2ff" stroke="#ffb8ff" stroke-width="1.6"/>
<circle cx="1549.3" cy="743.2" r="9.5" fill="#fff2ff" stroke="#ffb8ff" stroke-width="1.6"/>
<circle cx="1601.5" cy="775.1" r="9.5" fill="#fff2ff" stroke="#ffb8ff" stroke-width="1.6"/>
<circle cx="1655.0" cy="575.3" r="9.5" fill="#fff2ff" stroke="#ffb8ff" stroke-width="1.6"/>
<circle cx="1705.2" cy="590.0" r="9.5" fill="#fff2ff" stroke="#ffb8ff" stroke-width="1.6"/>
<circle cx="1757.4" cy="944.5" r="9.5" fill="#fff2ff" stroke="#ffb8ff" stroke-width="1.6"/>
<circle cx="1840.0" cy="793.4" r="9.5" fill="#fff2ff" stroke="#ffb8ff" stroke-width="1.6"/>
</g>
</g>
<g stroke="#000" stroke-width="8" fill="none" stroke-linecap="butt">
<line x1="279.0" y1="92.5" x2="1847.0" y2="92.5"/>
<line x1="279.0" y1="1240.0" x2="1847.0" y2="1240.0"/>
<line x1="301.0" y1="92.5" x2="301.0" y2="1251.0"/>
<line x1="1843.0" y1="92.5" x2="1843.0" y2="1251.0"/>
<line x1="279.0" y1="475.0" x2="301.0" y2="475.0"/>
<line x1="279.0" y1="857.5" x2="301.0" y2="857.5"/>
<line x1="290.0" y1="283.8" x2="301.0" y2="283.8"/>
<line x1="290.0" y1="666.2" x2="301.0" y2="666.2"/>
<line x1="290.0" y1="1048.8" x2="301.0" y2="1048.8"/>
<line x1="493.8" y1="1240.0" x2="493.8" y2="1262.0"/>
<line x1="879.3" y1="1240.0" x2="879.3" y2="1262.0"/>
<line x1="1264.8" y1="1240.0" x2="1264.8" y2="1262.0"/>
<line x1="1650.2" y1="1240.0" x2="1650.2" y2="1262.0"/>
<line x1="686.5" y1="1240.0" x2="686.5" y2="1251.0"/>
<line x1="1072.0" y1="1240.0" x2="1072.0" y2="1251.0"/>
<line x1="1457.5" y1="1240.0" x2="1457.5" y2="1251.0"/>
</g>
<text class="tick" x="265" y="115.5" text-anchor="end">0</text>
<text class="tick" x="265" y="498.0" text-anchor="end">-15</text>
<text class="tick" x="265" y="880.5" text-anchor="end">-30</text>
<text class="tick" x="265" y="1263.0" text-anchor="end">-45</text>
<text class="tick" x="493.8" y="1330.5" text-anchor="middle">0.2</text>
<text class="tick" x="879.3" y="1330.5" text-anchor="middle">0.4</text>
<text class="tick" x="1264.8" y="1330.5" text-anchor="middle">0.6</text>
<text class="tick" x="1650.2" y="1330.5" text-anchor="middle">0.8</text>
<text class="ttl"><tspan x="781.7" y="1473.6" textLength="361" lengthAdjust="spacingAndGlyphs">Frequency</tspan> <tspan x="1163.5" y="1473.6" textLength="199" lengthAdjust="spacingAndGlyphs"><tspan class="p" dy="-4.7">(</tspan><tspan dy="4.7">THz</tspan><tspan class="p" dy="-4.7">)</tspan></tspan></text>
<text class="ttl" transform="translate(118.5,1080.7) rotate(-90)"><tspan x="0.0" y="0" textLength="354" lengthAdjust="spacingAndGlyphs">Reflection</tspan> <tspan x="372.4" y="0" textLength="386.5" lengthAdjust="spacingAndGlyphs">Coefficient</tspan> <tspan x="777.7" y="0" textLength="148" lengthAdjust="spacingAndGlyphs"><tspan class="p" dy="-4.7">(</tspan><tspan dy="4.7">dB</tspan><tspan class="p" dy="-4.7">)</tspan></tspan></text>
<text x="940" y="1604" text-anchor="middle" style="font-size:80px">(<tspan class="b">b</tspan>)</text>
<line x1="602" y1="716.0" x2="811.5" y2="716.0" stroke="#000000" stroke-width="8.0"/>
<rect x="697.6" y="706.9" width="18.3" height="18.3" fill="#f5f5f5" stroke="#c4c4c4" stroke-width="1.6"/>
<text class="leg" x="824" y="745.0">0 µm</text>
<line x1="602" y1="826.8" x2="811.5" y2="826.8" stroke="#ff0000" stroke-width="8.0"/>
<circle cx="706.7" cy="826.8" r="9.5" fill="#fff4f4" stroke="#ffbcbc" stroke-width="1.6"/>
<text class="leg" x="824" y="855.8">10 µm</text>
<line x1="602" y1="937.5" x2="811.5" y2="937.5" stroke="#0000ff" stroke-width="8.0"/>
<polygon points="706.7,923.0 718.5,945.0 695.0,945.0" fill="#f2f2ff" stroke="#bcbcff" stroke-width="1.6"/>
<text class="leg" x="824" y="966.5">20 µm</text>
<line x1="602" y1="1048.2" x2="811.5" y2="1048.2" stroke="#808080" stroke-width="8.0"/>
<rect x="696.8" y="1038.3" width="19.8" height="19.8" fill="#808080"/>
<text class="leg" x="824" y="1077.2">30 µm</text>
<line x1="602" y1="1159.0" x2="811.5" y2="1159.0" stroke="#ff00ff" stroke-width="8.0"/>
<circle cx="706.7" cy="1159.0" r="9.5" fill="#fff2ff" stroke="#ffb8ff" stroke-width="1.6"/>
<text class="leg" x="824" y="1188.0">40 µm</text>
</svg>
</body></html>
